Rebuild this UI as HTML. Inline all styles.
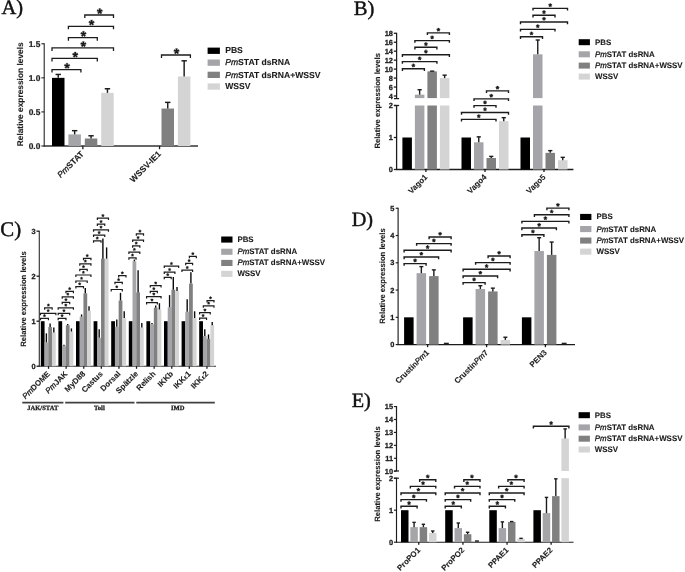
<!DOCTYPE html>
<html><head><meta charset="utf-8"><title>Figure</title>
<style>
html,body{margin:0;padding:0;background:#fff;}
body{width:685px;height:572px;overflow:hidden;font-family:"Liberation Sans",sans-serif;}
svg{display:block;will-change:transform;}
text{white-space:pre;}
</style></head><body>
<svg width="685" height="572" viewBox="0 0 685 572" shape-rendering="geometricPrecision" text-rendering="geometricPrecision">
<defs><filter id="soft" x="0" y="0" width="685" height="572" filterUnits="userSpaceOnUse" color-interpolation-filters="sRGB"><feGaussianBlur stdDeviation="0.32"/></filter></defs>
<rect x="0" y="0" width="685" height="572" fill="#ffffff"/>
<g filter="url(#soft)">
<rect x="0" y="0" width="685" height="572" fill="#ffffff"/>
<text x="1.5" y="14.3" font-family="Liberation Serif" font-size="20.5" font-weight="normal" text-anchor="start" fill="#111" stroke="#111" stroke-width="0.45">A)</text>
<line x1="44.2" y1="43.27" x2="44.2" y2="146.5" stroke="#1c1c1c" stroke-width="1.05"/>
<line x1="43.7" y1="146" x2="198" y2="146" stroke="#333" stroke-width="1.3"/>
<line x1="41.4" y1="146" x2="44.2" y2="146" stroke="#1c1c1c" stroke-width="1.05"/>
<text x="40.3" y="149" font-family="Liberation Sans" font-size="8.4" font-weight="bold" text-anchor="end" fill="#1c1c1c" stroke="#1c1c1c" stroke-width="0.22">0.0</text>
<line x1="41.4" y1="111.92" x2="44.2" y2="111.92" stroke="#1c1c1c" stroke-width="1.05"/>
<text x="40.3" y="114.92" font-family="Liberation Sans" font-size="8.4" font-weight="bold" text-anchor="end" fill="#1c1c1c" stroke="#1c1c1c" stroke-width="0.22">0.5</text>
<line x1="41.4" y1="77.85" x2="44.2" y2="77.85" stroke="#1c1c1c" stroke-width="1.05"/>
<text x="40.3" y="80.85" font-family="Liberation Sans" font-size="8.4" font-weight="bold" text-anchor="end" fill="#1c1c1c" stroke="#1c1c1c" stroke-width="0.22">1.0</text>
<line x1="41.4" y1="43.77" x2="44.2" y2="43.77" stroke="#1c1c1c" stroke-width="1.05"/>
<text x="40.3" y="46.77" font-family="Liberation Sans" font-size="8.4" font-weight="bold" text-anchor="end" fill="#1c1c1c" stroke="#1c1c1c" stroke-width="0.22">1.5</text>
<text x="0" y="0" font-family="Liberation Sans" font-size="8.36" font-weight="bold" text-anchor="middle" fill="#1c1c1c" transform="translate(23 94.3) rotate(-90)" stroke="#1c1c1c" stroke-width="0.12">Relative expression levels</text>
<rect x="52" y="77.85" width="12.5" height="68.15" fill="#000000"/>
<line x1="58.25" y1="74.44" x2="58.25" y2="77.85" stroke="#1c1c1c" stroke-width="1.45"/>
<line x1="55.55" y1="74.44" x2="60.95" y2="74.44" stroke="#1c1c1c" stroke-width="1.45"/>
<rect x="68.4" y="134.41" width="12.5" height="11.59" fill="#a4a4a9"/>
<line x1="74.65" y1="130.67" x2="74.65" y2="134.41" stroke="#1c1c1c" stroke-width="1.45"/>
<line x1="71.95" y1="130.67" x2="77.35" y2="130.67" stroke="#1c1c1c" stroke-width="1.45"/>
<rect x="84.8" y="138.5" width="12.5" height="7.5" fill="#808080"/>
<line x1="91.05" y1="135.78" x2="91.05" y2="138.5" stroke="#1c1c1c" stroke-width="1.45"/>
<line x1="88.35" y1="135.78" x2="93.75" y2="135.78" stroke="#1c1c1c" stroke-width="1.45"/>
<rect x="101.2" y="92.84" width="12.5" height="53.16" fill="#d4d4d4"/>
<line x1="107.45" y1="88.75" x2="107.45" y2="92.84" stroke="#1c1c1c" stroke-width="1.45"/>
<line x1="104.75" y1="88.75" x2="110.15" y2="88.75" stroke="#1c1c1c" stroke-width="1.45"/>
<rect x="161.5" y="108.52" width="12.5" height="37.48" fill="#808080"/>
<line x1="167.75" y1="102.38" x2="167.75" y2="108.52" stroke="#1c1c1c" stroke-width="1.45"/>
<line x1="165.05" y1="102.38" x2="170.45" y2="102.38" stroke="#1c1c1c" stroke-width="1.45"/>
<rect x="177.9" y="76.49" width="12.5" height="69.51" fill="#d4d4d4"/>
<line x1="184.15" y1="60.81" x2="184.15" y2="76.49" stroke="#1c1c1c" stroke-width="1.45"/>
<line x1="181.45" y1="60.81" x2="186.85" y2="60.81" stroke="#1c1c1c" stroke-width="1.45"/>
<line x1="82.85" y1="146" x2="82.85" y2="149.2" stroke="#1c1c1c" stroke-width="1.3"/>
<line x1="159.55" y1="146" x2="159.55" y2="149.2" stroke="#1c1c1c" stroke-width="1.3"/>
<text x="0" y="0" font-family="Liberation Sans" font-size="8.5" font-weight="bold" text-anchor="end" fill="#1c1c1c" transform="translate(84.5 154.5) rotate(-45)" stroke="#1c1c1c" stroke-width="0.12"><tspan font-style="italic" font-weight="normal" stroke="#1c1c1c" stroke-width="0.3">Pm</tspan>STAT</text>
<text x="0" y="0" font-family="Liberation Sans" font-size="8.5" font-weight="bold" text-anchor="end" fill="#1c1c1c" transform="translate(161.6 154.5) rotate(-45)" stroke="#1c1c1c" stroke-width="0.12">WSSV-IE1</text>
<path d="M84.8 18 V15 H113.5 V18" fill="none" stroke="#1c1c1c" stroke-width="1.3"/>
<path d="M100.24 11.3L100.66 8.6L98.84 8.6L99.26 11.3ZM99.9 11.77L102.6 11.33L102.04 9.6L99.6 10.83ZM99.35 11.59L100.6 14.02L102.08 12.95L100.15 11.01ZM99.35 11.01L97.42 12.95L98.9 14.02L100.15 11.59ZM99.9 10.83L97.46 9.6L96.9 11.33L99.6 11.77Z" fill="#1c1c1c" stroke="#1c1c1c" stroke-width="0.27" stroke-linejoin="round"/>
<path d="M68.4 29.3 V26.3 H113.5 V29.3" fill="none" stroke="#1c1c1c" stroke-width="1.3"/>
<path d="M92.04 22.6L92.46 19.9L90.64 19.9L91.06 22.6ZM91.7 23.07L94.4 22.63L93.84 20.9L91.4 22.13ZM91.15 22.89L92.4 25.32L93.88 24.25L91.95 22.31ZM91.15 22.31L89.22 24.25L90.7 25.32L91.95 22.89ZM91.7 22.13L89.26 20.9L88.7 22.63L91.4 23.07Z" fill="#1c1c1c" stroke="#1c1c1c" stroke-width="0.27" stroke-linejoin="round"/>
<path d="M68.4 40.7 V37.7 H97.3 V40.7" fill="none" stroke="#1c1c1c" stroke-width="1.3"/>
<path d="M83.94 34L84.36 31.3L82.54 31.3L82.96 34ZM83.6 34.47L86.3 34.03L85.74 32.3L83.3 33.53ZM83.05 34.29L84.3 36.72L85.78 35.65L83.85 33.71ZM83.05 33.71L81.12 35.65L82.6 36.72L83.85 34.29ZM83.6 33.53L81.16 32.3L80.6 34.03L83.3 34.47Z" fill="#1c1c1c" stroke="#1c1c1c" stroke-width="0.27" stroke-linejoin="round"/>
<path d="M52 50.9 V47.9 H113.5 V50.9" fill="none" stroke="#1c1c1c" stroke-width="1.3"/>
<path d="M83.84 44.2L84.26 41.5L82.44 41.5L82.86 44.2ZM83.5 44.67L86.2 44.23L85.64 42.5L83.2 43.73ZM82.95 44.49L84.2 46.92L85.68 45.85L83.75 43.91ZM82.95 43.91L81.02 45.85L82.5 46.92L83.75 44.49ZM83.5 43.73L81.06 42.5L80.5 44.23L83.2 44.67Z" fill="#1c1c1c" stroke="#1c1c1c" stroke-width="0.27" stroke-linejoin="round"/>
<path d="M52 61.4 V58.4 H97.3 V61.4" fill="none" stroke="#1c1c1c" stroke-width="1.3"/>
<path d="M75.74 54.7L76.16 52L74.34 52L74.76 54.7ZM75.4 55.17L78.1 54.73L77.54 53L75.1 54.23ZM74.85 54.99L76.1 57.42L77.58 56.35L75.65 54.41ZM74.85 54.41L72.92 56.35L74.4 57.42L75.65 54.99ZM75.4 54.23L72.96 53L72.4 54.73L75.1 55.17Z" fill="#1c1c1c" stroke="#1c1c1c" stroke-width="0.27" stroke-linejoin="round"/>
<path d="M52 72.6 V69.6 H80.9 V72.6" fill="none" stroke="#1c1c1c" stroke-width="1.3"/>
<path d="M67.54 65.9L67.96 63.2L66.14 63.2L66.56 65.9ZM67.2 66.37L69.9 65.93L69.34 64.2L66.9 65.43ZM66.65 66.19L67.9 68.62L69.38 67.55L67.45 65.61ZM66.65 65.61L64.72 67.55L66.2 68.62L67.45 66.19ZM67.2 65.43L64.76 64.2L64.2 65.93L66.9 66.37Z" fill="#1c1c1c" stroke="#1c1c1c" stroke-width="0.27" stroke-linejoin="round"/>
<path d="M161.5 58 V55 H190.4 V58" fill="none" stroke="#1c1c1c" stroke-width="1.3"/>
<path d="M177.04 51.3L177.46 48.6L175.64 48.6L176.06 51.3ZM176.7 51.77L179.4 51.33L178.84 49.6L176.4 50.83ZM176.15 51.59L177.4 54.02L178.88 52.95L176.95 51.01ZM176.15 51.01L174.22 52.95L175.7 54.02L176.95 51.59ZM176.7 50.83L174.26 49.6L173.7 51.33L176.4 51.77Z" fill="#1c1c1c" stroke="#1c1c1c" stroke-width="0.27" stroke-linejoin="round"/>
<rect x="207.6" y="47.6" width="12.3" height="6.3" fill="#000000"/>
<text x="225.2" y="53.41" font-family="Liberation Sans" font-size="8.58" font-weight="bold" text-anchor="start" fill="#1c1c1c" stroke="#1c1c1c" stroke-width="0.1">PBS</text>
<rect x="207.6" y="59.5" width="12.3" height="6.3" fill="#a4a4a9"/>
<text x="225.2" y="65.31" font-family="Liberation Sans" font-size="8.58" font-weight="bold" text-anchor="start" fill="#1c1c1c" stroke="#1c1c1c" stroke-width="0.1"><tspan font-style="italic" font-weight="normal" stroke="#1c1c1c" stroke-width="0.3">Pm</tspan>STAT dsRNA</text>
<rect x="207.6" y="71.7" width="12.3" height="6.3" fill="#808080"/>
<text x="225.2" y="77.51" font-family="Liberation Sans" font-size="8.58" font-weight="bold" text-anchor="start" fill="#1c1c1c" stroke="#1c1c1c" stroke-width="0.1"><tspan font-style="italic" font-weight="normal" stroke="#1c1c1c" stroke-width="0.3">Pm</tspan>STAT dsRNA+WSSV</text>
<rect x="207.6" y="83.4" width="12.3" height="6.3" fill="#d4d4d4"/>
<text x="225.2" y="89.21" font-family="Liberation Sans" font-size="8.58" font-weight="bold" text-anchor="start" fill="#1c1c1c" stroke="#1c1c1c" stroke-width="0.1">WSSV</text>
<text x="353.8" y="14.6" font-family="Liberation Serif" font-size="20.6" font-weight="normal" text-anchor="start" fill="#111" stroke="#111" stroke-width="0.45">B)</text>
<line x1="396.6" y1="32.78" x2="396.6" y2="98.6" stroke="#1c1c1c" stroke-width="1.25"/>
<line x1="394" y1="98.6" x2="399.1" y2="98.6" stroke="#1c1c1c" stroke-width="1.25"/>
<line x1="394" y1="105.5" x2="399.1" y2="105.5" stroke="#1c1c1c" stroke-width="1.25"/>
<line x1="396.6" y1="105" x2="396.6" y2="170" stroke="#1c1c1c" stroke-width="1.3"/>
<line x1="396.1" y1="169.5" x2="573.4" y2="169.5" stroke="#1c1c1c" stroke-width="1.3"/>
<line x1="393.8" y1="96" x2="396.6" y2="96" stroke="#1c1c1c" stroke-width="1.3"/>
<text x="392.9" y="98.7" font-family="Liberation Sans" font-size="7.4" font-weight="bold" text-anchor="end" fill="#1c1c1c" stroke="#1c1c1c" stroke-width="0.28">4</text>
<line x1="393.8" y1="87.04" x2="396.6" y2="87.04" stroke="#1c1c1c" stroke-width="1.3"/>
<text x="392.9" y="89.74" font-family="Liberation Sans" font-size="7.4" font-weight="bold" text-anchor="end" fill="#1c1c1c" stroke="#1c1c1c" stroke-width="0.28">6</text>
<line x1="393.8" y1="78.08" x2="396.6" y2="78.08" stroke="#1c1c1c" stroke-width="1.3"/>
<text x="392.9" y="80.78" font-family="Liberation Sans" font-size="7.4" font-weight="bold" text-anchor="end" fill="#1c1c1c" stroke="#1c1c1c" stroke-width="0.28">8</text>
<line x1="393.8" y1="69.12" x2="396.6" y2="69.12" stroke="#1c1c1c" stroke-width="1.3"/>
<text x="392.9" y="71.82" font-family="Liberation Sans" font-size="7.4" font-weight="bold" text-anchor="end" fill="#1c1c1c" stroke="#1c1c1c" stroke-width="0.28">10</text>
<line x1="393.8" y1="60.16" x2="396.6" y2="60.16" stroke="#1c1c1c" stroke-width="1.3"/>
<text x="392.9" y="62.86" font-family="Liberation Sans" font-size="7.4" font-weight="bold" text-anchor="end" fill="#1c1c1c" stroke="#1c1c1c" stroke-width="0.28">12</text>
<line x1="393.8" y1="51.2" x2="396.6" y2="51.2" stroke="#1c1c1c" stroke-width="1.3"/>
<text x="392.9" y="53.9" font-family="Liberation Sans" font-size="7.4" font-weight="bold" text-anchor="end" fill="#1c1c1c" stroke="#1c1c1c" stroke-width="0.28">14</text>
<line x1="393.8" y1="42.24" x2="396.6" y2="42.24" stroke="#1c1c1c" stroke-width="1.3"/>
<text x="392.9" y="44.94" font-family="Liberation Sans" font-size="7.4" font-weight="bold" text-anchor="end" fill="#1c1c1c" stroke="#1c1c1c" stroke-width="0.28">16</text>
<line x1="393.8" y1="33.28" x2="396.6" y2="33.28" stroke="#1c1c1c" stroke-width="1.3"/>
<text x="392.9" y="35.98" font-family="Liberation Sans" font-size="7.4" font-weight="bold" text-anchor="end" fill="#1c1c1c" stroke="#1c1c1c" stroke-width="0.28">18</text>
<line x1="393.8" y1="169.5" x2="396.6" y2="169.5" stroke="#1c1c1c" stroke-width="1.3"/>
<text x="392.9" y="172.2" font-family="Liberation Sans" font-size="7.4" font-weight="bold" text-anchor="end" fill="#1c1c1c" stroke="#1c1c1c" stroke-width="0.28">0</text>
<line x1="393.8" y1="137.5" x2="396.6" y2="137.5" stroke="#1c1c1c" stroke-width="1.3"/>
<text x="392.9" y="140.2" font-family="Liberation Sans" font-size="7.4" font-weight="bold" text-anchor="end" fill="#1c1c1c" stroke="#1c1c1c" stroke-width="0.28">1</text>
<line x1="393.8" y1="105.5" x2="396.6" y2="105.5" stroke="#1c1c1c" stroke-width="1.3"/>
<text x="392.9" y="108.2" font-family="Liberation Sans" font-size="7.4" font-weight="bold" text-anchor="end" fill="#1c1c1c" stroke="#1c1c1c" stroke-width="0.28">2</text>
<text x="0" y="0" font-family="Liberation Sans" font-size="7.68" font-weight="bold" text-anchor="middle" fill="#1c1c1c" transform="translate(379.8 100.8) rotate(-90)" stroke="#1c1c1c" stroke-width="0.1">Relative expression levels</text>
<rect x="402.4" y="137.5" width="9.5" height="32" fill="#000000"/>
<rect x="414.9" y="105.5" width="9.5" height="64" fill="#a4a4a9"/>
<rect x="414.9" y="94.66" width="9.5" height="3.44" fill="#a4a4a9"/>
<line x1="419.65" y1="89.73" x2="419.65" y2="94.66" stroke="#1c1c1c" stroke-width="1.4"/>
<line x1="417.55" y1="89.73" x2="421.75" y2="89.73" stroke="#1c1c1c" stroke-width="1.4"/>
<rect x="427.4" y="105.5" width="9.5" height="64" fill="#808080"/>
<rect x="427.4" y="71.36" width="9.5" height="26.74" fill="#808080"/>
<line x1="432.15" y1="71.14" x2="432.15" y2="71.36" stroke="#1c1c1c" stroke-width="1.4"/>
<line x1="430.05" y1="71.14" x2="434.25" y2="71.14" stroke="#1c1c1c" stroke-width="1.4"/>
<rect x="439.9" y="105.5" width="9.5" height="64" fill="#d4d4d4"/>
<rect x="439.9" y="78.08" width="9.5" height="20.02" fill="#d4d4d4"/>
<line x1="444.65" y1="75.17" x2="444.65" y2="78.08" stroke="#1c1c1c" stroke-width="1.4"/>
<line x1="442.55" y1="75.17" x2="446.75" y2="75.17" stroke="#1c1c1c" stroke-width="1.4"/>
<line x1="425.9" y1="169.5" x2="425.9" y2="172.1" stroke="#1c1c1c" stroke-width="1.3"/>
<rect x="461.5" y="137.5" width="9.5" height="32" fill="#000000"/>
<rect x="474" y="142.3" width="9.5" height="27.2" fill="#a4a4a9"/>
<line x1="478.75" y1="136.86" x2="478.75" y2="142.3" stroke="#1c1c1c" stroke-width="1.4"/>
<line x1="476.65" y1="136.86" x2="480.85" y2="136.86" stroke="#1c1c1c" stroke-width="1.4"/>
<rect x="486.5" y="157.98" width="9.5" height="11.52" fill="#808080"/>
<line x1="491.25" y1="156.38" x2="491.25" y2="157.98" stroke="#1c1c1c" stroke-width="1.4"/>
<line x1="489.15" y1="156.38" x2="493.35" y2="156.38" stroke="#1c1c1c" stroke-width="1.4"/>
<rect x="499" y="121.18" width="9.5" height="48.32" fill="#d4d4d4"/>
<line x1="503.75" y1="117.66" x2="503.75" y2="121.18" stroke="#1c1c1c" stroke-width="1.4"/>
<line x1="501.65" y1="117.66" x2="505.85" y2="117.66" stroke="#1c1c1c" stroke-width="1.4"/>
<line x1="485" y1="169.5" x2="485" y2="172.1" stroke="#1c1c1c" stroke-width="1.3"/>
<rect x="520.5" y="137.5" width="9.5" height="32" fill="#000000"/>
<rect x="533" y="105.5" width="9.5" height="64" fill="#a4a4a9"/>
<rect x="533" y="54.34" width="9.5" height="43.76" fill="#a4a4a9"/>
<line x1="537.75" y1="40" x2="537.75" y2="54.34" stroke="#1c1c1c" stroke-width="1.4"/>
<line x1="535.65" y1="40" x2="539.85" y2="40" stroke="#1c1c1c" stroke-width="1.4"/>
<rect x="545.5" y="152.86" width="9.5" height="16.64" fill="#808080"/>
<line x1="550.25" y1="150.62" x2="550.25" y2="152.86" stroke="#1c1c1c" stroke-width="1.4"/>
<line x1="548.15" y1="150.62" x2="552.35" y2="150.62" stroke="#1c1c1c" stroke-width="1.4"/>
<rect x="558" y="160.22" width="9.5" height="9.28" fill="#d4d4d4"/>
<line x1="562.75" y1="157.34" x2="562.75" y2="160.22" stroke="#1c1c1c" stroke-width="1.4"/>
<line x1="560.65" y1="157.34" x2="564.85" y2="157.34" stroke="#1c1c1c" stroke-width="1.4"/>
<line x1="544" y1="169.5" x2="544" y2="172.1" stroke="#1c1c1c" stroke-width="1.3"/>
<text x="0" y="0" font-family="Liberation Sans" font-size="7.9" font-weight="bold" text-anchor="end" fill="#1c1c1c" transform="translate(427.9 177.7) rotate(-45)" stroke="#1c1c1c" stroke-width="0.1">Vago1</text>
<text x="0" y="0" font-family="Liberation Sans" font-size="7.9" font-weight="bold" text-anchor="end" fill="#1c1c1c" transform="translate(487 177.7) rotate(-45)" stroke="#1c1c1c" stroke-width="0.1">Vago4</text>
<text x="0" y="0" font-family="Liberation Sans" font-size="7.9" font-weight="bold" text-anchor="end" fill="#1c1c1c" transform="translate(546 177.7) rotate(-45)" stroke="#1c1c1c" stroke-width="0.1">Vago5</text>
<path d="M427.4 35.1 V32.9 H449.4 V35.1" fill="none" stroke="#1c1c1c" stroke-width="1.4"/>
<path d="M438.74 29.7L439.04 27.95L437.76 27.95L438.06 29.7ZM438.51 30.03L440.26 29.77L439.87 28.55L438.29 29.37ZM438.12 29.9L438.91 31.49L439.94 30.74L438.68 29.5ZM438.12 29.5L436.86 30.74L437.89 31.49L438.68 29.9ZM438.51 29.37L436.93 28.55L436.54 29.77L438.29 30.03Z" fill="#1c1c1c" stroke="#1c1c1c" stroke-width="0.18" stroke-linejoin="round"/>
<path d="M414.9 42.8 V40.6 H449.4 V42.8" fill="none" stroke="#1c1c1c" stroke-width="1.4"/>
<path d="M432.49 37.4L432.79 35.65L431.51 35.65L431.81 37.4ZM432.26 37.73L434.01 37.47L433.62 36.25L432.04 37.07ZM431.87 37.6L432.66 39.19L433.69 38.44L432.43 37.2ZM431.87 37.2L430.61 38.44L431.64 39.19L432.43 37.6ZM432.26 37.07L430.68 36.25L430.29 37.47L432.04 37.73Z" fill="#1c1c1c" stroke="#1c1c1c" stroke-width="0.18" stroke-linejoin="round"/>
<path d="M414.9 49.5 V47.3 H436.9 V49.5" fill="none" stroke="#1c1c1c" stroke-width="1.4"/>
<path d="M426.24 44.1L426.54 42.35L425.26 42.35L425.56 44.1ZM426.01 44.43L427.76 44.17L427.37 42.95L425.79 43.77ZM425.62 44.3L426.41 45.89L427.44 45.14L426.18 43.9ZM425.62 43.9L424.36 45.14L425.39 45.89L426.18 44.3ZM426.01 43.77L424.43 42.95L424.04 44.17L425.79 44.43Z" fill="#1c1c1c" stroke="#1c1c1c" stroke-width="0.18" stroke-linejoin="round"/>
<path d="M402.4 57 V54.8 H449.4 V57" fill="none" stroke="#1c1c1c" stroke-width="1.4"/>
<path d="M426.24 51.6L426.54 49.85L425.26 49.85L425.56 51.6ZM426.01 51.93L427.76 51.67L427.37 50.45L425.79 51.27ZM425.62 51.8L426.41 53.39L427.44 52.64L426.18 51.4ZM425.62 51.4L424.36 52.64L425.39 53.39L426.18 51.8ZM426.01 51.27L424.43 50.45L424.04 51.67L425.79 51.93Z" fill="#1c1c1c" stroke="#1c1c1c" stroke-width="0.18" stroke-linejoin="round"/>
<path d="M402.4 63.8 V61.6 H436.9 V63.8" fill="none" stroke="#1c1c1c" stroke-width="1.4"/>
<path d="M419.99 58.4L420.29 56.65L419.01 56.65L419.31 58.4ZM419.76 58.73L421.51 58.47L421.12 57.25L419.54 58.07ZM419.37 58.6L420.16 60.19L421.19 59.44L419.93 58.2ZM419.37 58.2L418.11 59.44L419.14 60.19L419.93 58.6ZM419.76 58.07L418.18 57.25L417.79 58.47L419.54 58.73Z" fill="#1c1c1c" stroke="#1c1c1c" stroke-width="0.18" stroke-linejoin="round"/>
<path d="M402.4 70.9 V68.7 H424.4 V70.9" fill="none" stroke="#1c1c1c" stroke-width="1.4"/>
<path d="M413.74 65.5L414.04 63.75L412.76 63.75L413.06 65.5ZM413.51 65.83L415.26 65.57L414.87 64.35L413.29 65.17ZM413.12 65.7L413.91 67.29L414.94 66.54L413.68 65.3ZM413.12 65.3L411.86 66.54L412.89 67.29L413.68 65.7ZM413.51 65.17L411.93 64.35L411.54 65.57L413.29 65.83Z" fill="#1c1c1c" stroke="#1c1c1c" stroke-width="0.18" stroke-linejoin="round"/>
<path d="M486.5 93.1 V90.9 H508.5 V93.1" fill="none" stroke="#1c1c1c" stroke-width="1.4"/>
<path d="M497.84 87.7L498.14 85.95L496.86 85.95L497.16 87.7ZM497.61 88.03L499.36 87.77L498.97 86.55L497.39 87.37ZM497.22 87.9L498.01 89.49L499.04 88.74L497.78 87.5ZM497.22 87.5L495.96 88.74L496.99 89.49L497.78 87.9ZM497.61 87.37L496.03 86.55L495.64 87.77L497.39 88.03Z" fill="#1c1c1c" stroke="#1c1c1c" stroke-width="0.18" stroke-linejoin="round"/>
<path d="M474 101.1 V98.9 H508.5 V101.1" fill="none" stroke="#1c1c1c" stroke-width="1.4"/>
<path d="M491.59 95.7L491.89 93.95L490.61 93.95L490.91 95.7ZM491.36 96.03L493.11 95.77L492.72 94.55L491.14 95.37ZM490.97 95.9L491.76 97.49L492.79 96.74L491.53 95.5ZM490.97 95.5L489.71 96.74L490.74 97.49L491.53 95.9ZM491.36 95.37L489.78 94.55L489.39 95.77L491.14 96.03Z" fill="#1c1c1c" stroke="#1c1c1c" stroke-width="0.18" stroke-linejoin="round"/>
<path d="M474 107.8 V105.6 H496 V107.8" fill="none" stroke="#1c1c1c" stroke-width="1.4"/>
<path d="M485.34 102.4L485.64 100.65L484.36 100.65L484.66 102.4ZM485.11 102.73L486.86 102.47L486.47 101.25L484.89 102.07ZM484.72 102.6L485.51 104.19L486.54 103.44L485.28 102.2ZM484.72 102.2L483.46 103.44L484.49 104.19L485.28 102.6ZM485.11 102.07L483.53 101.25L483.14 102.47L484.89 102.73Z" fill="#1c1c1c" stroke="#1c1c1c" stroke-width="0.18" stroke-linejoin="round"/>
<path d="M461.5 114.7 V112.5 H508.5 V114.7" fill="none" stroke="#1c1c1c" stroke-width="1.4"/>
<path d="M485.34 109.3L485.64 107.55L484.36 107.55L484.66 109.3ZM485.11 109.63L486.86 109.37L486.47 108.15L484.89 108.97ZM484.72 109.5L485.51 111.09L486.54 110.34L485.28 109.1ZM484.72 109.1L483.46 110.34L484.49 111.09L485.28 109.5ZM485.11 108.97L483.53 108.15L483.14 109.37L484.89 109.63Z" fill="#1c1c1c" stroke="#1c1c1c" stroke-width="0.18" stroke-linejoin="round"/>
<path d="M461.5 121.6 V119.4 H496 V121.6" fill="none" stroke="#1c1c1c" stroke-width="1.4"/>
<path d="M479.09 116.2L479.39 114.45L478.11 114.45L478.41 116.2ZM478.86 116.53L480.61 116.27L480.22 115.05L478.64 115.87ZM478.47 116.4L479.26 117.99L480.29 117.24L479.03 116ZM478.47 116L477.21 117.24L478.24 117.99L479.03 116.4ZM478.86 115.87L477.28 115.05L476.89 116.27L478.64 116.53Z" fill="#1c1c1c" stroke="#1c1c1c" stroke-width="0.18" stroke-linejoin="round"/>
<path d="M533 10.6 V8.4 H567.5 V10.6" fill="none" stroke="#1c1c1c" stroke-width="1.4"/>
<path d="M550.59 5.2L550.89 3.45L549.61 3.45L549.91 5.2ZM550.36 5.53L552.11 5.27L551.72 4.05L550.14 4.87ZM549.97 5.4L550.76 6.99L551.79 6.24L550.53 5ZM549.97 5L548.71 6.24L549.74 6.99L550.53 5.4ZM550.36 4.87L548.78 4.05L548.39 5.27L550.14 5.53Z" fill="#1c1c1c" stroke="#1c1c1c" stroke-width="0.18" stroke-linejoin="round"/>
<path d="M533 17.5 V15.3 H555 V17.5" fill="none" stroke="#1c1c1c" stroke-width="1.4"/>
<path d="M544.34 12.1L544.64 10.35L543.36 10.35L543.66 12.1ZM544.11 12.43L545.86 12.17L545.47 10.95L543.89 11.77ZM543.72 12.3L544.51 13.89L545.54 13.14L544.28 11.9ZM543.72 11.9L542.46 13.14L543.49 13.89L544.28 12.3ZM544.11 11.77L542.53 10.95L542.14 12.17L543.89 12.43Z" fill="#1c1c1c" stroke="#1c1c1c" stroke-width="0.18" stroke-linejoin="round"/>
<path d="M520.5 24.2 V22 H567.5 V24.2" fill="none" stroke="#1c1c1c" stroke-width="1.4"/>
<path d="M544.34 18.8L544.64 17.05L543.36 17.05L543.66 18.8ZM544.11 19.13L545.86 18.87L545.47 17.65L543.89 18.47ZM543.72 19L544.51 20.59L545.54 19.84L544.28 18.6ZM543.72 18.6L542.46 19.84L543.49 20.59L544.28 19ZM544.11 18.47L542.53 17.65L542.14 18.87L543.89 19.13Z" fill="#1c1c1c" stroke="#1c1c1c" stroke-width="0.18" stroke-linejoin="round"/>
<path d="M520.5 31.6 V29.4 H555 V31.6" fill="none" stroke="#1c1c1c" stroke-width="1.4"/>
<path d="M538.09 26.2L538.39 24.45L537.11 24.45L537.41 26.2ZM537.86 26.53L539.61 26.27L539.22 25.05L537.64 25.87ZM537.47 26.4L538.26 27.99L539.29 27.24L538.03 26ZM537.47 26L536.21 27.24L537.24 27.99L538.03 26.4ZM537.86 25.87L536.28 25.05L535.89 26.27L537.64 26.53Z" fill="#1c1c1c" stroke="#1c1c1c" stroke-width="0.18" stroke-linejoin="round"/>
<path d="M520.5 38.9 V36.7 H542.5 V38.9" fill="none" stroke="#1c1c1c" stroke-width="1.4"/>
<path d="M531.84 33.5L532.14 31.75L530.86 31.75L531.16 33.5ZM531.61 33.83L533.36 33.57L532.97 32.35L531.39 33.17ZM531.22 33.7L532.01 35.29L533.04 34.54L531.78 33.3ZM531.22 33.3L529.96 34.54L530.99 35.29L531.78 33.7ZM531.61 33.17L530.03 32.35L529.64 33.57L531.39 33.83Z" fill="#1c1c1c" stroke="#1c1c1c" stroke-width="0.18" stroke-linejoin="round"/>
<rect x="578.7" y="39.2" width="11.2" height="6" fill="#000000"/>
<text x="595" y="44.65" font-family="Liberation Sans" font-size="7.9" font-weight="bold" text-anchor="start" fill="#1c1c1c" stroke="#1c1c1c" stroke-width="0.1">PBS</text>
<rect x="578.7" y="51.3" width="11.2" height="6" fill="#a4a4a9"/>
<text x="595" y="56.75" font-family="Liberation Sans" font-size="7.9" font-weight="bold" text-anchor="start" fill="#1c1c1c" stroke="#1c1c1c" stroke-width="0.1"><tspan font-style="italic" font-weight="normal" stroke="#1c1c1c" stroke-width="0.3">Pm</tspan>STAT dsRNA</text>
<rect x="578.7" y="62.6" width="11.2" height="6" fill="#808080"/>
<text x="595" y="68.05" font-family="Liberation Sans" font-size="7.9" font-weight="bold" text-anchor="start" fill="#1c1c1c" stroke="#1c1c1c" stroke-width="0.1"><tspan font-style="italic" font-weight="normal" stroke="#1c1c1c" stroke-width="0.3">Pm</tspan>STAT dsRNA+WSSV</text>
<rect x="578.7" y="73.6" width="11.2" height="6" fill="#d4d4d4"/>
<text x="595" y="79.05" font-family="Liberation Sans" font-size="7.9" font-weight="bold" text-anchor="start" fill="#1c1c1c" stroke="#1c1c1c" stroke-width="0.1">WSSV</text>
<text x="0.3" y="236.3" font-family="Liberation Serif" font-size="20.8" font-weight="normal" text-anchor="start" fill="#111" stroke="#111" stroke-width="0.45">C)</text>
<line x1="39.3" y1="230.7" x2="39.3" y2="366.7" stroke="#333" stroke-width="1.15"/>
<line x1="38.8" y1="366.2" x2="216" y2="366.2" stroke="#333" stroke-width="1.15"/>
<line x1="36.5" y1="366.2" x2="39.3" y2="366.2" stroke="#1c1c1c" stroke-width="1.3"/>
<text x="35.6" y="368.9" font-family="Liberation Sans" font-size="7.4" font-weight="bold" text-anchor="end" fill="#1c1c1c" stroke="#1c1c1c" stroke-width="0.28">0</text>
<line x1="36.5" y1="321.2" x2="39.3" y2="321.2" stroke="#1c1c1c" stroke-width="1.3"/>
<text x="35.6" y="323.9" font-family="Liberation Sans" font-size="7.4" font-weight="bold" text-anchor="end" fill="#1c1c1c" stroke="#1c1c1c" stroke-width="0.28">1</text>
<line x1="36.5" y1="276.2" x2="39.3" y2="276.2" stroke="#1c1c1c" stroke-width="1.3"/>
<text x="35.6" y="278.9" font-family="Liberation Sans" font-size="7.4" font-weight="bold" text-anchor="end" fill="#1c1c1c" stroke="#1c1c1c" stroke-width="0.28">2</text>
<line x1="36.5" y1="231.2" x2="39.3" y2="231.2" stroke="#1c1c1c" stroke-width="1.3"/>
<text x="35.6" y="233.9" font-family="Liberation Sans" font-size="7.4" font-weight="bold" text-anchor="end" fill="#1c1c1c" stroke="#1c1c1c" stroke-width="0.28">3</text>
<text x="0" y="0" font-family="Liberation Sans" font-size="7.68" font-weight="bold" text-anchor="middle" fill="#1c1c1c" transform="translate(26 299) rotate(-90)" stroke="#1c1c1c" stroke-width="0.1">Relative expression levels</text>
<rect x="40.8" y="321.2" width="3.77" height="45" fill="#000000"/>
<rect x="44.52" y="342.35" width="3.77" height="23.85" fill="#a4a4a9"/>
<rect x="48.24" y="327.05" width="3.77" height="39.15" fill="#808080"/>
<rect x="51.96" y="332.45" width="3.77" height="33.75" fill="#d4d4d4"/>
<line x1="46.38" y1="333.35" x2="46.38" y2="342.35" stroke="#0a0a0a" stroke-width="1.4"/>
<line x1="50.1" y1="323.45" x2="50.1" y2="327.05" stroke="#0a0a0a" stroke-width="1.4"/>
<line x1="53.82" y1="327.5" x2="53.82" y2="332.45" stroke="#0a0a0a" stroke-width="1.4"/>
<line x1="48.54" y1="366.2" x2="48.54" y2="368.8" stroke="#1c1c1c" stroke-width="1.3"/>
<text x="0" y="0" font-family="Liberation Sans" font-size="7.9" font-weight="bold" text-anchor="end" fill="#1c1c1c" transform="translate(50.54 374.4) rotate(-45)" stroke="#1c1c1c" stroke-width="0.1"><tspan font-style="italic" font-weight="normal" stroke="#1c1c1c" stroke-width="0.3">Pm</tspan>DOME</text>
<path d="M40.5 320.2 V318.3 H48.44 V320.2" fill="none" stroke="#1c1c1c" stroke-width="1.2"/>
<path d="M44.73 315.6L44.96 314.25L43.98 314.25L44.21 315.6ZM44.55 315.85L45.91 315.65L45.6 314.72L44.39 315.35ZM44.26 315.76L44.87 316.98L45.66 316.4L44.68 315.44ZM44.26 315.44L43.28 316.4L44.07 316.98L44.68 315.76ZM44.55 315.35L43.34 314.72L43.03 315.65L44.39 315.85Z" fill="#1c1c1c" stroke="#1c1c1c" stroke-width="0.14" stroke-linejoin="round"/>
<path d="M40.5 315.2 V313.3 H55.88 V315.2" fill="none" stroke="#1c1c1c" stroke-width="1.2"/>
<path d="M48.45 310.6L48.68 309.25L47.7 309.25L47.93 310.6ZM48.27 310.85L49.63 310.65L49.32 309.72L48.11 310.35ZM47.98 310.76L48.59 311.98L49.38 311.4L48.4 310.44ZM47.98 310.44L47 311.4L47.79 311.98L48.4 310.76ZM48.27 310.35L47.06 309.72L46.75 310.65L48.11 310.85Z" fill="#1c1c1c" stroke="#1c1c1c" stroke-width="0.14" stroke-linejoin="round"/>
<path d="M44.62 309.7 V307.8 H52.16 V309.7" fill="none" stroke="#1c1c1c" stroke-width="1.2"/>
<path d="M48.65 305.1L48.88 303.75L47.9 303.75L48.13 305.1ZM48.47 305.35L49.83 305.15L49.52 304.22L48.31 304.85ZM48.18 305.26L48.79 306.48L49.58 305.9L48.6 304.94ZM48.18 304.94L47.2 305.9L47.99 306.48L48.6 305.26ZM48.47 304.85L47.26 304.22L46.95 305.15L48.31 305.35Z" fill="#1c1c1c" stroke="#1c1c1c" stroke-width="0.14" stroke-linejoin="round"/>
<rect x="58.4" y="321.2" width="3.77" height="45" fill="#000000"/>
<rect x="62.12" y="345.72" width="3.77" height="20.48" fill="#a4a4a9"/>
<rect x="65.84" y="325.25" width="3.77" height="40.95" fill="#808080"/>
<rect x="69.56" y="331.55" width="3.77" height="34.65" fill="#d4d4d4"/>
<line x1="63.98" y1="344.82" x2="63.98" y2="345.72" stroke="#0a0a0a" stroke-width="1.4"/>
<line x1="67.7" y1="323.9" x2="67.7" y2="325.25" stroke="#0a0a0a" stroke-width="1.4"/>
<line x1="71.42" y1="328.4" x2="71.42" y2="331.55" stroke="#0a0a0a" stroke-width="1.4"/>
<line x1="66.14" y1="366.2" x2="66.14" y2="368.8" stroke="#1c1c1c" stroke-width="1.3"/>
<text x="0" y="0" font-family="Liberation Sans" font-size="7.9" font-weight="bold" text-anchor="end" fill="#1c1c1c" transform="translate(68.14 374.4) rotate(-45)" stroke="#1c1c1c" stroke-width="0.1"><tspan font-style="italic" font-weight="normal" stroke="#1c1c1c" stroke-width="0.3">Pm</tspan>JAK</text>
<path d="M58.18 320.2 V318.3 H65.97 V320.2" fill="none" stroke="#1c1c1c" stroke-width="1.2"/>
<path d="M62.34 315.6L62.57 314.25L61.58 314.25L61.81 315.6ZM62.16 315.85L63.51 315.65L63.21 314.72L61.99 315.35ZM61.86 315.76L62.47 316.98L63.27 316.4L62.29 315.44ZM61.86 315.44L60.88 316.4L61.68 316.98L62.29 315.76ZM62.16 315.35L60.94 314.72L60.64 315.65L61.99 315.85Z" fill="#1c1c1c" stroke="#1c1c1c" stroke-width="0.14" stroke-linejoin="round"/>
<path d="M58.18 315.2 V313.3 H69.69 V315.2" fill="none" stroke="#1c1c1c" stroke-width="1.2"/>
<path d="M64.2 310.6L64.43 309.25L63.44 309.25L63.67 310.6ZM64.02 310.85L65.37 310.65L65.07 309.72L63.85 310.35ZM63.72 310.76L64.33 311.98L65.13 311.4L64.15 310.44ZM63.72 310.44L62.74 311.4L63.54 311.98L64.15 310.76ZM64.02 310.35L62.8 309.72L62.5 310.65L63.85 310.85Z" fill="#1c1c1c" stroke="#1c1c1c" stroke-width="0.14" stroke-linejoin="round"/>
<path d="M58.18 309.7 V307.8 H73.41 V309.7" fill="none" stroke="#1c1c1c" stroke-width="1.2"/>
<path d="M66.06 305.1L66.29 303.75L65.3 303.75L65.53 305.1ZM65.88 305.35L67.23 305.15L66.93 304.22L65.71 304.85ZM65.58 305.26L66.19 306.48L66.99 305.9L66.01 304.94ZM65.58 304.94L64.6 305.9L65.4 306.48L66.01 305.26ZM65.88 304.85L64.66 304.22L64.36 305.15L65.71 305.35Z" fill="#1c1c1c" stroke="#1c1c1c" stroke-width="0.14" stroke-linejoin="round"/>
<path d="M62.2 304.3 V302.4 H69.69 V304.3" fill="none" stroke="#1c1c1c" stroke-width="1.2"/>
<path d="M66.21 299.7L66.44 298.35L65.45 298.35L65.68 299.7ZM66.03 299.95L67.38 299.75L67.08 298.82L65.86 299.45ZM65.73 299.86L66.34 301.08L67.14 300.5L66.16 299.54ZM65.73 299.54L64.75 300.5L65.55 301.08L66.16 299.86ZM66.03 299.45L64.81 298.82L64.51 299.75L65.86 299.95Z" fill="#1c1c1c" stroke="#1c1c1c" stroke-width="0.14" stroke-linejoin="round"/>
<path d="M62.2 298.7 V296.8 H73.41 V298.7" fill="none" stroke="#1c1c1c" stroke-width="1.2"/>
<path d="M68.07 294.1L68.3 292.75L67.31 292.75L67.54 294.1ZM67.89 294.35L69.24 294.15L68.94 293.22L67.72 293.85ZM67.59 294.26L68.2 295.48L69 294.9L68.02 293.94ZM67.59 293.94L66.61 294.9L67.41 295.48L68.02 294.26ZM67.89 293.85L66.67 293.22L66.37 294.15L67.72 294.35Z" fill="#1c1c1c" stroke="#1c1c1c" stroke-width="0.14" stroke-linejoin="round"/>
<path d="M65.92 293.2 V291.3 H73.41 V293.2" fill="none" stroke="#1c1c1c" stroke-width="1.2"/>
<path d="M69.93 288.6L70.16 287.25L69.17 287.25L69.4 288.6ZM69.75 288.85L71.1 288.65L70.8 287.72L69.58 288.35ZM69.45 288.76L70.06 289.98L70.86 289.4L69.88 288.44ZM69.45 288.44L68.47 289.4L69.27 289.98L69.88 288.76ZM69.75 288.35L68.53 287.72L68.23 288.65L69.58 288.85Z" fill="#1c1c1c" stroke="#1c1c1c" stroke-width="0.14" stroke-linejoin="round"/>
<rect x="76" y="321.2" width="3.77" height="45" fill="#000000"/>
<rect x="79.72" y="316.7" width="3.77" height="49.5" fill="#a4a4a9"/>
<rect x="83.44" y="293.3" width="3.77" height="72.9" fill="#808080"/>
<rect x="87.16" y="310.85" width="3.77" height="55.35" fill="#d4d4d4"/>
<line x1="81.58" y1="314.45" x2="81.58" y2="316.7" stroke="#0a0a0a" stroke-width="1.4"/>
<line x1="85.3" y1="287.9" x2="85.3" y2="293.3" stroke="#0a0a0a" stroke-width="1.4"/>
<line x1="89.02" y1="306.35" x2="89.02" y2="310.85" stroke="#0a0a0a" stroke-width="1.4"/>
<line x1="83.74" y1="366.2" x2="83.74" y2="368.8" stroke="#1c1c1c" stroke-width="1.3"/>
<text x="0" y="0" font-family="Liberation Sans" font-size="7.9" font-weight="bold" text-anchor="end" fill="#1c1c1c" transform="translate(85.74 374.4) rotate(-45)" stroke="#1c1c1c" stroke-width="0.1">MyD88</text>
<path d="M75.86 288.5 V286.6 H83.5 V288.5" fill="none" stroke="#1c1c1c" stroke-width="1.2"/>
<path d="M79.94 283.9L80.17 282.55L79.19 282.55L79.42 283.9ZM79.76 284.15L81.12 283.95L80.81 283.02L79.6 283.65ZM79.47 284.06L80.08 285.28L80.87 284.7L79.89 283.74ZM79.47 283.74L78.49 284.7L79.28 285.28L79.89 284.06ZM79.76 283.65L78.55 283.02L78.24 283.95L79.6 284.15Z" fill="#1c1c1c" stroke="#1c1c1c" stroke-width="0.14" stroke-linejoin="round"/>
<path d="M75.86 282.9 V281 H87.22 V282.9" fill="none" stroke="#1c1c1c" stroke-width="1.2"/>
<path d="M81.8 278.3L82.03 276.95L81.05 276.95L81.28 278.3ZM81.62 278.55L82.98 278.35L82.67 277.42L81.46 278.05ZM81.33 278.46L81.94 279.68L82.73 279.1L81.75 278.14ZM81.33 278.14L80.35 279.1L81.14 279.68L81.75 278.46ZM81.62 278.05L80.41 277.42L80.1 278.35L81.46 278.55Z" fill="#1c1c1c" stroke="#1c1c1c" stroke-width="0.14" stroke-linejoin="round"/>
<path d="M75.86 276.9 V275 H90.94 V276.9" fill="none" stroke="#1c1c1c" stroke-width="1.2"/>
<path d="M83.66 272.3L83.89 270.95L82.91 270.95L83.14 272.3ZM83.48 272.55L84.84 272.35L84.53 271.42L83.32 272.05ZM83.19 272.46L83.8 273.68L84.59 273.1L83.61 272.14ZM83.19 272.14L82.21 273.1L83 273.68L83.61 272.46ZM83.48 272.05L82.27 271.42L81.96 272.35L83.32 272.55Z" fill="#1c1c1c" stroke="#1c1c1c" stroke-width="0.14" stroke-linejoin="round"/>
<path d="M79.78 271.3 V269.4 H87.22 V271.3" fill="none" stroke="#1c1c1c" stroke-width="1.2"/>
<path d="M83.76 266.7L83.99 265.35L83.01 265.35L83.24 266.7ZM83.58 266.95L84.94 266.75L84.63 265.82L83.42 266.45ZM83.29 266.86L83.9 268.08L84.69 267.5L83.71 266.54ZM83.29 266.54L82.31 267.5L83.1 268.08L83.71 266.86ZM83.58 266.45L82.37 265.82L82.06 266.75L83.42 266.95Z" fill="#1c1c1c" stroke="#1c1c1c" stroke-width="0.14" stroke-linejoin="round"/>
<path d="M79.78 265.7 V263.8 H90.94 V265.7" fill="none" stroke="#1c1c1c" stroke-width="1.2"/>
<path d="M85.62 261.1L85.85 259.75L84.87 259.75L85.1 261.1ZM85.44 261.35L86.8 261.15L86.49 260.22L85.28 260.85ZM85.15 261.26L85.76 262.48L86.55 261.9L85.57 260.94ZM85.15 260.94L84.17 261.9L84.96 262.48L85.57 261.26ZM85.44 260.85L84.23 260.22L83.92 261.15L85.28 261.35Z" fill="#1c1c1c" stroke="#1c1c1c" stroke-width="0.14" stroke-linejoin="round"/>
<path d="M83.5 260.2 V258.3 H90.94 V260.2" fill="none" stroke="#1c1c1c" stroke-width="1.2"/>
<path d="M87.48 255.6L87.71 254.25L86.73 254.25L86.96 255.6ZM87.3 255.85L88.66 255.65L88.35 254.72L87.14 255.35ZM87.01 255.76L87.62 256.98L88.41 256.4L87.43 255.44ZM87.01 255.44L86.03 256.4L86.82 256.98L87.43 255.76ZM87.3 255.35L86.09 254.72L85.78 255.65L87.14 255.85Z" fill="#1c1c1c" stroke="#1c1c1c" stroke-width="0.14" stroke-linejoin="round"/>
<rect x="93.6" y="321.2" width="3.77" height="45" fill="#000000"/>
<rect x="97.32" y="337.85" width="3.77" height="28.35" fill="#a4a4a9"/>
<rect x="101.04" y="258.65" width="3.77" height="107.55" fill="#808080"/>
<rect x="104.76" y="258.65" width="3.77" height="107.55" fill="#d4d4d4"/>
<line x1="99.18" y1="329.3" x2="99.18" y2="337.85" stroke="#0a0a0a" stroke-width="1.4"/>
<line x1="102.9" y1="238.4" x2="102.9" y2="258.65" stroke="#0a0a0a" stroke-width="1.4"/>
<line x1="106.62" y1="247.4" x2="106.62" y2="258.65" stroke="#0a0a0a" stroke-width="1.4"/>
<line x1="101.34" y1="366.2" x2="101.34" y2="368.8" stroke="#1c1c1c" stroke-width="1.3"/>
<text x="0" y="0" font-family="Liberation Sans" font-size="7.9" font-weight="bold" text-anchor="end" fill="#1c1c1c" transform="translate(103.34 374.4) rotate(-45)" stroke="#1c1c1c" stroke-width="0.1">Castus</text>
<path d="M93.54 242.7 V240.8 H101.03 V242.7" fill="none" stroke="#1c1c1c" stroke-width="1.2"/>
<path d="M97.55 238.1L97.78 236.75L96.79 236.75L97.02 238.1ZM97.37 238.35L98.72 238.15L98.42 237.22L97.2 237.85ZM97.07 238.26L97.68 239.48L98.48 238.9L97.5 237.94ZM97.07 237.94L96.09 238.9L96.89 239.48L97.5 238.26ZM97.37 237.85L96.15 237.22L95.85 238.15L97.2 238.35Z" fill="#1c1c1c" stroke="#1c1c1c" stroke-width="0.14" stroke-linejoin="round"/>
<path d="M93.54 237.1 V235.2 H104.75 V237.1" fill="none" stroke="#1c1c1c" stroke-width="1.2"/>
<path d="M99.41 232.5L99.64 231.15L98.65 231.15L98.88 232.5ZM99.23 232.75L100.58 232.55L100.28 231.62L99.06 232.25ZM98.93 232.66L99.54 233.88L100.34 233.3L99.36 232.34ZM98.93 232.34L97.95 233.3L98.75 233.88L99.36 232.66ZM99.23 232.25L98.01 231.62L97.71 232.55L99.06 232.75Z" fill="#1c1c1c" stroke="#1c1c1c" stroke-width="0.14" stroke-linejoin="round"/>
<path d="M93.54 231.7 V229.8 H108.47 V231.7" fill="none" stroke="#1c1c1c" stroke-width="1.2"/>
<path d="M101.27 227.1L101.5 225.75L100.51 225.75L100.74 227.1ZM101.09 227.35L102.44 227.15L102.14 226.22L100.92 226.85ZM100.79 227.26L101.4 228.48L102.2 227.9L101.22 226.94ZM100.79 226.94L99.81 227.9L100.61 228.48L101.22 227.26ZM101.09 226.85L99.87 226.22L99.57 227.15L100.92 227.35Z" fill="#1c1c1c" stroke="#1c1c1c" stroke-width="0.14" stroke-linejoin="round"/>
<path d="M97.36 226.1 V224.2 H104.75 V226.1" fill="none" stroke="#1c1c1c" stroke-width="1.2"/>
<path d="M101.32 221.5L101.55 220.15L100.56 220.15L100.79 221.5ZM101.14 221.75L102.49 221.55L102.19 220.62L100.97 221.25ZM100.84 221.66L101.45 222.88L102.25 222.3L101.27 221.34ZM100.84 221.34L99.86 222.3L100.66 222.88L101.27 221.66ZM101.14 221.25L99.92 220.62L99.62 221.55L100.97 221.75Z" fill="#1c1c1c" stroke="#1c1c1c" stroke-width="0.14" stroke-linejoin="round"/>
<path d="M97.36 220.1 V218.2 H108.47 V220.1" fill="none" stroke="#1c1c1c" stroke-width="1.2"/>
<path d="M103.18 215.5L103.41 214.15L102.42 214.15L102.65 215.5ZM103 215.75L104.35 215.55L104.05 214.62L102.83 215.25ZM102.7 215.66L103.31 216.88L104.11 216.3L103.13 215.34ZM102.7 215.34L101.72 216.3L102.52 216.88L103.13 215.66ZM103 215.25L101.78 214.62L101.48 215.55L102.83 215.75Z" fill="#1c1c1c" stroke="#1c1c1c" stroke-width="0.14" stroke-linejoin="round"/>
<rect x="111.2" y="321.2" width="3.77" height="45" fill="#000000"/>
<rect x="114.92" y="326.82" width="3.77" height="39.38" fill="#a4a4a9"/>
<rect x="118.64" y="300.5" width="3.77" height="65.7" fill="#808080"/>
<rect x="122.36" y="318.05" width="3.77" height="48.15" fill="#d4d4d4"/>
<line x1="116.78" y1="319.4" x2="116.78" y2="326.82" stroke="#0a0a0a" stroke-width="1.4"/>
<line x1="120.5" y1="292.85" x2="120.5" y2="300.5" stroke="#0a0a0a" stroke-width="1.4"/>
<line x1="124.22" y1="311.3" x2="124.22" y2="318.05" stroke="#0a0a0a" stroke-width="1.4"/>
<line x1="118.94" y1="366.2" x2="118.94" y2="368.8" stroke="#1c1c1c" stroke-width="1.3"/>
<text x="0" y="0" font-family="Liberation Sans" font-size="7.9" font-weight="bold" text-anchor="end" fill="#1c1c1c" transform="translate(120.94 374.4) rotate(-45)" stroke="#1c1c1c" stroke-width="0.1">Dorsal</text>
<path d="M111.22 291.4 V289.5 H122.28 V291.4" fill="none" stroke="#1c1c1c" stroke-width="1.2"/>
<path d="M117.01 286.8L117.24 285.45L116.26 285.45L116.49 286.8ZM116.83 287.05L118.19 286.85L117.88 285.92L116.67 286.55ZM116.54 286.96L117.15 288.18L117.94 287.6L116.96 286.64ZM116.54 286.64L115.56 287.6L116.35 288.18L116.96 286.96ZM116.83 286.55L115.62 285.92L115.31 286.85L116.67 287.05Z" fill="#1c1c1c" stroke="#1c1c1c" stroke-width="0.14" stroke-linejoin="round"/>
<path d="M114.94 284.2 V282.3 H122.28 V284.2" fill="none" stroke="#1c1c1c" stroke-width="1.2"/>
<path d="M118.87 279.6L119.1 278.25L118.12 278.25L118.35 279.6ZM118.69 279.85L120.05 279.65L119.74 278.72L118.53 279.35ZM118.4 279.76L119.01 280.98L119.8 280.4L118.82 279.44ZM118.4 279.44L117.42 280.4L118.21 280.98L118.82 279.76ZM118.69 279.35L117.48 278.72L117.17 279.65L118.53 279.85Z" fill="#1c1c1c" stroke="#1c1c1c" stroke-width="0.14" stroke-linejoin="round"/>
<path d="M118.66 277.5 V275.6 H126 V277.5" fill="none" stroke="#1c1c1c" stroke-width="1.2"/>
<path d="M122.59 272.9L122.82 271.55L121.84 271.55L122.07 272.9ZM122.41 273.15L123.77 272.95L123.46 272.02L122.25 272.65ZM122.12 273.06L122.73 274.28L123.52 273.7L122.54 272.74ZM122.12 272.74L121.14 273.7L121.93 274.28L122.54 273.06ZM122.41 272.65L121.2 272.02L120.89 272.95L122.25 273.15Z" fill="#1c1c1c" stroke="#1c1c1c" stroke-width="0.14" stroke-linejoin="round"/>
<rect x="128.8" y="321.2" width="3.77" height="45" fill="#000000"/>
<rect x="132.52" y="261.35" width="3.77" height="104.85" fill="#a4a4a9"/>
<rect x="136.24" y="292.4" width="3.77" height="73.8" fill="#808080"/>
<rect x="139.96" y="327.5" width="3.77" height="38.7" fill="#d4d4d4"/>
<line x1="134.38" y1="259.55" x2="134.38" y2="261.35" stroke="#0a0a0a" stroke-width="1.4"/>
<line x1="138.1" y1="270.35" x2="138.1" y2="292.4" stroke="#0a0a0a" stroke-width="1.4"/>
<line x1="141.82" y1="323" x2="141.82" y2="327.5" stroke="#0a0a0a" stroke-width="1.4"/>
<line x1="136.54" y1="366.2" x2="136.54" y2="368.8" stroke="#1c1c1c" stroke-width="1.3"/>
<text x="0" y="0" font-family="Liberation Sans" font-size="7.9" font-weight="bold" text-anchor="end" fill="#1c1c1c" transform="translate(138.54 374.4) rotate(-45)" stroke="#1c1c1c" stroke-width="0.1">Sp&#228;tzle</text>
<path d="M128.9 259.7 V257.8 H136.09 V259.7" fill="none" stroke="#1c1c1c" stroke-width="1.2"/>
<path d="M132.76 255.1L132.99 253.75L132 253.75L132.23 255.1ZM132.58 255.35L133.93 255.15L133.63 254.22L132.41 254.85ZM132.28 255.26L132.89 256.48L133.69 255.9L132.71 254.94ZM132.28 254.94L131.3 255.9L132.1 256.48L132.71 255.26ZM132.58 254.85L131.36 254.22L131.06 255.15L132.41 255.35Z" fill="#1c1c1c" stroke="#1c1c1c" stroke-width="0.14" stroke-linejoin="round"/>
<path d="M128.9 254 V252.1 H139.81 V254" fill="none" stroke="#1c1c1c" stroke-width="1.2"/>
<path d="M134.62 249.4L134.85 248.05L133.86 248.05L134.09 249.4ZM134.44 249.65L135.79 249.45L135.49 248.52L134.27 249.15ZM134.14 249.56L134.75 250.78L135.55 250.2L134.57 249.24ZM134.14 249.24L133.16 250.2L133.96 250.78L134.57 249.56ZM134.44 249.15L133.22 248.52L132.92 249.45L134.27 249.65Z" fill="#1c1c1c" stroke="#1c1c1c" stroke-width="0.14" stroke-linejoin="round"/>
<path d="M132.62 247.7 V245.8 H139.81 V247.7" fill="none" stroke="#1c1c1c" stroke-width="1.2"/>
<path d="M136.48 243.1L136.71 241.75L135.72 241.75L135.95 243.1ZM136.3 243.35L137.65 243.15L137.35 242.22L136.13 242.85ZM136 243.26L136.61 244.48L137.41 243.9L136.43 242.94ZM136 242.94L135.02 243.9L135.82 244.48L136.43 243.26ZM136.3 242.85L135.08 242.22L134.78 243.15L136.13 243.35Z" fill="#1c1c1c" stroke="#1c1c1c" stroke-width="0.14" stroke-linejoin="round"/>
<path d="M132.62 242.1 V240.2 H143.53 V242.1" fill="none" stroke="#1c1c1c" stroke-width="1.2"/>
<path d="M138.34 237.5L138.57 236.15L137.58 236.15L137.81 237.5ZM138.16 237.75L139.51 237.55L139.21 236.62L137.99 237.25ZM137.86 237.66L138.47 238.88L139.27 238.3L138.29 237.34ZM137.86 237.34L136.88 238.3L137.68 238.88L138.29 237.66ZM138.16 237.25L136.94 236.62L136.64 237.55L137.99 237.75Z" fill="#1c1c1c" stroke="#1c1c1c" stroke-width="0.14" stroke-linejoin="round"/>
<path d="M136.34 235.8 V233.9 H143.53 V235.8" fill="none" stroke="#1c1c1c" stroke-width="1.2"/>
<path d="M140.2 231.2L140.43 229.85L139.44 229.85L139.67 231.2ZM140.02 231.45L141.37 231.25L141.07 230.32L139.85 230.95ZM139.72 231.36L140.33 232.58L141.13 232L140.15 231.04ZM139.72 231.04L138.74 232L139.54 232.58L140.15 231.36ZM140.02 230.95L138.8 230.32L138.5 231.25L139.85 231.45Z" fill="#1c1c1c" stroke="#1c1c1c" stroke-width="0.14" stroke-linejoin="round"/>
<rect x="146.4" y="321.2" width="3.77" height="45" fill="#000000"/>
<rect x="150.12" y="324.35" width="3.77" height="41.85" fill="#a4a4a9"/>
<rect x="153.84" y="307.7" width="3.77" height="58.5" fill="#808080"/>
<rect x="157.56" y="309.5" width="3.77" height="56.7" fill="#d4d4d4"/>
<line x1="151.98" y1="323" x2="151.98" y2="324.35" stroke="#0a0a0a" stroke-width="1.4"/>
<line x1="155.7" y1="305.45" x2="155.7" y2="307.7" stroke="#0a0a0a" stroke-width="1.4"/>
<line x1="159.42" y1="303.2" x2="159.42" y2="309.5" stroke="#0a0a0a" stroke-width="1.4"/>
<line x1="154.14" y1="366.2" x2="154.14" y2="368.8" stroke="#1c1c1c" stroke-width="1.3"/>
<text x="0" y="0" font-family="Liberation Sans" font-size="7.9" font-weight="bold" text-anchor="end" fill="#1c1c1c" transform="translate(156.14 374.4) rotate(-45)" stroke="#1c1c1c" stroke-width="0.1">Relish</text>
<path d="M146.58 304.6 V302.7 H157.34 V304.6" fill="none" stroke="#1c1c1c" stroke-width="1.2"/>
<path d="M152.22 300L152.45 298.65L151.47 298.65L151.7 300ZM152.04 300.25L153.4 300.05L153.09 299.12L151.88 299.75ZM151.75 300.16L152.36 301.38L153.15 300.8L152.17 299.84ZM151.75 299.84L150.77 300.8L151.56 301.38L152.17 300.16ZM152.04 299.75L150.83 299.12L150.52 300.05L151.88 300.25Z" fill="#1c1c1c" stroke="#1c1c1c" stroke-width="0.14" stroke-linejoin="round"/>
<path d="M146.58 298.6 V296.7 H161.06 V298.6" fill="none" stroke="#1c1c1c" stroke-width="1.2"/>
<path d="M154.08 294L154.31 292.65L153.33 292.65L153.56 294ZM153.9 294.25L155.26 294.05L154.95 293.12L153.74 293.75ZM153.61 294.16L154.22 295.38L155.01 294.8L154.03 293.84ZM153.61 293.84L152.63 294.8L153.42 295.38L154.03 294.16ZM153.9 293.75L152.69 293.12L152.38 294.05L153.74 294.25Z" fill="#1c1c1c" stroke="#1c1c1c" stroke-width="0.14" stroke-linejoin="round"/>
<path d="M150.3 293.3 V291.4 H157.34 V293.3" fill="none" stroke="#1c1c1c" stroke-width="1.2"/>
<path d="M154.08 288.7L154.31 287.35L153.33 287.35L153.56 288.7ZM153.9 288.95L155.26 288.75L154.95 287.82L153.74 288.45ZM153.61 288.86L154.22 290.08L155.01 289.5L154.03 288.54ZM153.61 288.54L152.63 289.5L153.42 290.08L154.03 288.86ZM153.9 288.45L152.69 287.82L152.38 288.75L153.74 288.95Z" fill="#1c1c1c" stroke="#1c1c1c" stroke-width="0.14" stroke-linejoin="round"/>
<path d="M150.3 287.6 V285.7 H161.06 V287.6" fill="none" stroke="#1c1c1c" stroke-width="1.2"/>
<path d="M155.94 283L156.17 281.65L155.19 281.65L155.42 283ZM155.76 283.25L157.12 283.05L156.81 282.12L155.6 282.75ZM155.47 283.16L156.08 284.38L156.87 283.8L155.89 282.84ZM155.47 282.84L154.49 283.8L155.28 284.38L155.89 283.16ZM155.76 282.75L154.55 282.12L154.24 283.05L155.6 283.25Z" fill="#1c1c1c" stroke="#1c1c1c" stroke-width="0.14" stroke-linejoin="round"/>
<rect x="164" y="321.2" width="3.77" height="45" fill="#000000"/>
<rect x="167.72" y="307.25" width="3.77" height="58.95" fill="#a4a4a9"/>
<rect x="171.44" y="289.7" width="3.77" height="76.5" fill="#808080"/>
<rect x="175.16" y="291.05" width="3.77" height="75.15" fill="#d4d4d4"/>
<line x1="169.58" y1="295.1" x2="169.58" y2="307.25" stroke="#0a0a0a" stroke-width="1.4"/>
<line x1="173.3" y1="277.1" x2="173.3" y2="289.7" stroke="#0a0a0a" stroke-width="1.4"/>
<line x1="177.02" y1="287" x2="177.02" y2="291.05" stroke="#0a0a0a" stroke-width="1.4"/>
<line x1="171.74" y1="366.2" x2="171.74" y2="368.8" stroke="#1c1c1c" stroke-width="1.3"/>
<text x="0" y="0" font-family="Liberation Sans" font-size="7.9" font-weight="bold" text-anchor="end" fill="#1c1c1c" transform="translate(173.74 374.4) rotate(-45)" stroke="#1c1c1c" stroke-width="0.1">IKKb</text>
<path d="M164.26 279.3 V277.4 H171.2 V279.3" fill="none" stroke="#1c1c1c" stroke-width="1.2"/>
<path d="M167.99 274.7L168.22 273.35L167.24 273.35L167.47 274.7ZM167.81 274.95L169.17 274.75L168.86 273.82L167.65 274.45ZM167.52 274.86L168.13 276.08L168.92 275.5L167.94 274.54ZM167.52 274.54L166.54 275.5L167.33 276.08L167.94 274.86ZM167.81 274.45L166.6 273.82L166.29 274.75L167.65 274.95Z" fill="#1c1c1c" stroke="#1c1c1c" stroke-width="0.14" stroke-linejoin="round"/>
<path d="M164.26 274.1 V272.2 H174.92 V274.1" fill="none" stroke="#1c1c1c" stroke-width="1.2"/>
<path d="M169.85 269.5L170.08 268.15L169.1 268.15L169.33 269.5ZM169.67 269.75L171.03 269.55L170.72 268.62L169.51 269.25ZM169.38 269.66L169.99 270.88L170.78 270.3L169.8 269.34ZM169.38 269.34L168.4 270.3L169.19 270.88L169.8 269.66ZM169.67 269.25L168.46 268.62L168.15 269.55L169.51 269.75Z" fill="#1c1c1c" stroke="#1c1c1c" stroke-width="0.14" stroke-linejoin="round"/>
<path d="M164.26 268.1 V266.2 H178.64 V268.1" fill="none" stroke="#1c1c1c" stroke-width="1.2"/>
<path d="M171.71 263.5L171.94 262.15L170.96 262.15L171.19 263.5ZM171.53 263.75L172.89 263.55L172.58 262.62L171.37 263.25ZM171.24 263.66L171.85 264.88L172.64 264.3L171.66 263.34ZM171.24 263.34L170.26 264.3L171.05 264.88L171.66 263.66ZM171.53 263.25L170.32 262.62L170.01 263.55L171.37 263.75Z" fill="#1c1c1c" stroke="#1c1c1c" stroke-width="0.14" stroke-linejoin="round"/>
<rect x="181.6" y="321.2" width="3.77" height="45" fill="#000000"/>
<rect x="185.32" y="311.75" width="3.77" height="54.45" fill="#a4a4a9"/>
<rect x="189.04" y="283.62" width="3.77" height="82.57" fill="#808080"/>
<rect x="192.76" y="318.05" width="3.77" height="48.15" fill="#d4d4d4"/>
<line x1="187.18" y1="299.15" x2="187.18" y2="311.75" stroke="#0a0a0a" stroke-width="1.4"/>
<line x1="190.9" y1="272.15" x2="190.9" y2="283.62" stroke="#0a0a0a" stroke-width="1.4"/>
<line x1="194.62" y1="311.3" x2="194.62" y2="318.05" stroke="#0a0a0a" stroke-width="1.4"/>
<line x1="189.34" y1="366.2" x2="189.34" y2="368.8" stroke="#1c1c1c" stroke-width="1.3"/>
<text x="0" y="0" font-family="Liberation Sans" font-size="7.9" font-weight="bold" text-anchor="end" fill="#1c1c1c" transform="translate(191.34 374.4) rotate(-45)" stroke="#1c1c1c" stroke-width="0.1">IKK<tspan font-size="6.5">&#949;</tspan>1</text>
<path d="M181.94 272.1 V270.2 H192.6 V272.1" fill="none" stroke="#1c1c1c" stroke-width="1.2"/>
<path d="M187.53 267.5L187.76 266.15L186.78 266.15L187.01 267.5ZM187.35 267.75L188.71 267.55L188.4 266.62L187.19 267.25ZM187.06 267.66L187.67 268.88L188.46 268.3L187.48 267.34ZM187.06 267.34L186.08 268.3L186.87 268.88L187.48 267.66ZM187.35 267.25L186.14 266.62L185.83 267.55L187.19 267.75Z" fill="#1c1c1c" stroke="#1c1c1c" stroke-width="0.14" stroke-linejoin="round"/>
<path d="M185.66 265.2 V263.3 H192.6 V265.2" fill="none" stroke="#1c1c1c" stroke-width="1.2"/>
<path d="M189.39 260.6L189.62 259.25L188.64 259.25L188.87 260.6ZM189.21 260.85L190.57 260.65L190.26 259.72L189.05 260.35ZM188.92 260.76L189.53 261.98L190.32 261.4L189.34 260.44ZM188.92 260.44L187.94 261.4L188.73 261.98L189.34 260.76ZM189.21 260.35L188 259.72L187.69 260.65L189.05 260.85Z" fill="#1c1c1c" stroke="#1c1c1c" stroke-width="0.14" stroke-linejoin="round"/>
<path d="M189.38 258.3 V256.4 H196.32 V258.3" fill="none" stroke="#1c1c1c" stroke-width="1.2"/>
<path d="M193.11 253.7L193.34 252.35L192.36 252.35L192.59 253.7ZM192.93 253.95L194.29 253.75L193.98 252.82L192.77 253.45ZM192.64 253.86L193.25 255.08L194.04 254.5L193.06 253.54ZM192.64 253.54L191.66 254.5L192.45 255.08L193.06 253.86ZM192.93 253.45L191.72 252.82L191.41 253.75L192.77 253.95Z" fill="#1c1c1c" stroke="#1c1c1c" stroke-width="0.14" stroke-linejoin="round"/>
<rect x="199.2" y="321.2" width="3.77" height="45" fill="#000000"/>
<rect x="202.92" y="336.05" width="3.77" height="30.15" fill="#a4a4a9"/>
<rect x="206.64" y="338.93" width="3.77" height="27.27" fill="#808080"/>
<rect x="210.36" y="325.25" width="3.77" height="40.95" fill="#d4d4d4"/>
<line x1="204.78" y1="329.3" x2="204.78" y2="336.05" stroke="#0a0a0a" stroke-width="1.4"/>
<line x1="208.5" y1="334.43" x2="208.5" y2="338.93" stroke="#0a0a0a" stroke-width="1.4"/>
<line x1="212.22" y1="322.1" x2="212.22" y2="325.25" stroke="#0a0a0a" stroke-width="1.4"/>
<line x1="206.94" y1="366.2" x2="206.94" y2="368.8" stroke="#1c1c1c" stroke-width="1.3"/>
<text x="0" y="0" font-family="Liberation Sans" font-size="7.9" font-weight="bold" text-anchor="end" fill="#1c1c1c" transform="translate(208.94 374.4) rotate(-45)" stroke="#1c1c1c" stroke-width="0.1">IKK<tspan font-size="6.5">&#949;</tspan>2</text>
<path d="M199.6 320.1 V318.2 H206.54 V320.1" fill="none" stroke="#1c1c1c" stroke-width="1.2"/>
<path d="M203.33 315.5L203.56 314.15L202.58 314.15L202.81 315.5ZM203.15 315.75L204.51 315.55L204.2 314.62L202.99 315.25ZM202.86 315.66L203.47 316.88L204.26 316.3L203.28 315.34ZM202.86 315.34L201.88 316.3L202.67 316.88L203.28 315.66ZM203.15 315.25L201.94 314.62L201.63 315.55L202.99 315.75Z" fill="#1c1c1c" stroke="#1c1c1c" stroke-width="0.14" stroke-linejoin="round"/>
<path d="M199.6 314.6 V312.7 H210.26 V314.6" fill="none" stroke="#1c1c1c" stroke-width="1.2"/>
<path d="M205.19 310L205.42 308.65L204.44 308.65L204.67 310ZM205.01 310.25L206.37 310.05L206.06 309.12L204.85 309.75ZM204.72 310.16L205.33 311.38L206.12 310.8L205.14 309.84ZM204.72 309.84L203.74 310.8L204.53 311.38L205.14 310.16ZM205.01 309.75L203.8 309.12L203.49 310.05L204.85 310.25Z" fill="#1c1c1c" stroke="#1c1c1c" stroke-width="0.14" stroke-linejoin="round"/>
<path d="M203.32 307.8 V305.9 H213.98 V307.8" fill="none" stroke="#1c1c1c" stroke-width="1.2"/>
<path d="M208.91 303.2L209.14 301.85L208.16 301.85L208.39 303.2ZM208.73 303.45L210.09 303.25L209.78 302.32L208.57 302.95ZM208.44 303.36L209.05 304.58L209.84 304L208.86 303.04ZM208.44 303.04L207.46 304L208.25 304.58L208.86 303.36ZM208.73 302.95L207.52 302.32L207.21 303.25L208.57 303.45Z" fill="#1c1c1c" stroke="#1c1c1c" stroke-width="0.14" stroke-linejoin="round"/>
<path d="M207.04 302.5 V300.6 H213.98 V302.5" fill="none" stroke="#1c1c1c" stroke-width="1.2"/>
<path d="M210.77 297.9L211 296.55L210.02 296.55L210.25 297.9ZM210.59 298.15L211.95 297.95L211.64 297.02L210.43 297.65ZM210.3 298.06L210.91 299.28L211.7 298.7L210.72 297.74ZM210.3 297.74L209.32 298.7L210.11 299.28L210.72 298.06ZM210.59 297.65L209.38 297.02L209.07 297.95L210.43 298.15Z" fill="#1c1c1c" stroke="#1c1c1c" stroke-width="0.14" stroke-linejoin="round"/>
<line x1="22.3" y1="402.6" x2="63.4" y2="402.6" stroke="#404040" stroke-width="1.75"/>
<line x1="65.2" y1="402.6" x2="134.5" y2="402.6" stroke="#404040" stroke-width="1.75"/>
<line x1="136.3" y1="402.6" x2="214.8" y2="402.6" stroke="#404040" stroke-width="1.75"/>
<text x="42.8" y="410.2" font-family="Liberation Serif" font-size="6.55" font-weight="bold" text-anchor="middle" fill="#1c1c1c" stroke="#1c1c1c" stroke-width="0.28">JAK/STAT</text>
<text x="99.4" y="410.2" font-family="Liberation Serif" font-size="6.55" font-weight="bold" text-anchor="middle" fill="#1c1c1c" stroke="#1c1c1c" stroke-width="0.28">Toll</text>
<text x="177.7" y="410.2" font-family="Liberation Serif" font-size="6.55" font-weight="bold" text-anchor="middle" fill="#1c1c1c" stroke="#1c1c1c" stroke-width="0.28">IMD</text>
<rect x="221.2" y="236.5" width="11.3" height="6.1" fill="#000000"/>
<text x="237.4" y="241.7" font-family="Liberation Sans" font-size="7.9" font-weight="bold" text-anchor="start" fill="#1c1c1c" stroke="#1c1c1c" stroke-width="0.1">PBS</text>
<rect x="221.2" y="248.7" width="11.3" height="6.1" fill="#a4a4a9"/>
<text x="237.4" y="253.9" font-family="Liberation Sans" font-size="7.9" font-weight="bold" text-anchor="start" fill="#1c1c1c" stroke="#1c1c1c" stroke-width="0.1"><tspan font-style="italic" font-weight="normal" stroke="#1c1c1c" stroke-width="0.3">Pm</tspan>STAT dsRNA</text>
<rect x="221.2" y="259.9" width="11.3" height="6.1" fill="#808080"/>
<text x="237.4" y="265.1" font-family="Liberation Sans" font-size="7.9" font-weight="bold" text-anchor="start" fill="#1c1c1c" stroke="#1c1c1c" stroke-width="0.1"><tspan font-style="italic" font-weight="normal" stroke="#1c1c1c" stroke-width="0.3">Pm</tspan>STAT dsRNA+WSSV</text>
<rect x="221.2" y="270.8" width="11.3" height="6.1" fill="#d4d4d4"/>
<text x="237.4" y="276" font-family="Liberation Sans" font-size="7.9" font-weight="bold" text-anchor="start" fill="#1c1c1c" stroke="#1c1c1c" stroke-width="0.1">WSSV</text>
<text x="351.7" y="225.5" font-family="Liberation Serif" font-size="20.3" font-weight="normal" text-anchor="start" fill="#111" stroke="#111" stroke-width="0.45">D)</text>
<line x1="398.1" y1="207.75" x2="398.1" y2="345.1" stroke="#1c1c1c" stroke-width="1.15"/>
<line x1="397.6" y1="344.6" x2="575" y2="344.6" stroke="#1c1c1c" stroke-width="1.15"/>
<line x1="395.7" y1="344.6" x2="398.1" y2="344.6" stroke="#1c1c1c" stroke-width="1.15"/>
<text x="394.4" y="347.3" font-family="Liberation Sans" font-size="7.4" font-weight="bold" text-anchor="end" fill="#1c1c1c" stroke="#1c1c1c" stroke-width="0.28">0</text>
<line x1="395.7" y1="317.33" x2="398.1" y2="317.33" stroke="#1c1c1c" stroke-width="1.15"/>
<text x="394.4" y="320.03" font-family="Liberation Sans" font-size="7.4" font-weight="bold" text-anchor="end" fill="#1c1c1c" stroke="#1c1c1c" stroke-width="0.28">1</text>
<line x1="395.7" y1="290.06" x2="398.1" y2="290.06" stroke="#1c1c1c" stroke-width="1.15"/>
<text x="394.4" y="292.76" font-family="Liberation Sans" font-size="7.4" font-weight="bold" text-anchor="end" fill="#1c1c1c" stroke="#1c1c1c" stroke-width="0.28">2</text>
<line x1="395.7" y1="262.79" x2="398.1" y2="262.79" stroke="#1c1c1c" stroke-width="1.15"/>
<text x="394.4" y="265.49" font-family="Liberation Sans" font-size="7.4" font-weight="bold" text-anchor="end" fill="#1c1c1c" stroke="#1c1c1c" stroke-width="0.28">3</text>
<line x1="395.7" y1="235.52" x2="398.1" y2="235.52" stroke="#1c1c1c" stroke-width="1.15"/>
<text x="394.4" y="238.22" font-family="Liberation Sans" font-size="7.4" font-weight="bold" text-anchor="end" fill="#1c1c1c" stroke="#1c1c1c" stroke-width="0.28">4</text>
<line x1="395.7" y1="208.25" x2="398.1" y2="208.25" stroke="#1c1c1c" stroke-width="1.15"/>
<text x="394.4" y="210.95" font-family="Liberation Sans" font-size="7.4" font-weight="bold" text-anchor="end" fill="#1c1c1c" stroke="#1c1c1c" stroke-width="0.28">5</text>
<text x="0" y="0" font-family="Liberation Sans" font-size="7.68" font-weight="bold" text-anchor="middle" fill="#1c1c1c" transform="translate(385.3 276) rotate(-90)" stroke="#1c1c1c" stroke-width="0.1">Relative expression levels</text>
<rect x="404.1" y="317.33" width="9.5" height="27.27" fill="#000000"/>
<rect x="416.6" y="273.15" width="9.5" height="71.45" fill="#a4a4a9"/>
<line x1="421.35" y1="266.61" x2="421.35" y2="273.15" stroke="#1c1c1c" stroke-width="1.4"/>
<line x1="419.35" y1="266.61" x2="423.35" y2="266.61" stroke="#1c1c1c" stroke-width="1.4"/>
<rect x="429.1" y="276.15" width="9.5" height="68.45" fill="#808080"/>
<line x1="433.85" y1="269.88" x2="433.85" y2="276.15" stroke="#1c1c1c" stroke-width="1.4"/>
<line x1="431.85" y1="269.88" x2="435.85" y2="269.88" stroke="#1c1c1c" stroke-width="1.4"/>
<rect x="443.9" y="342.7" width="4.9" height="1.5" fill="#222"/>
<line x1="427.6" y1="344.6" x2="427.6" y2="347.2" stroke="#1c1c1c" stroke-width="1.3"/>
<text x="0" y="0" font-family="Liberation Sans" font-size="7.9" font-weight="bold" text-anchor="end" fill="#1c1c1c" transform="translate(429.6 353.1) rotate(-45)" stroke="#1c1c1c" stroke-width="0.1">Crustin<tspan font-style="italic" font-weight="normal" stroke="#1c1c1c" stroke-width="0.3">Pm</tspan>1</text>
<rect x="463.1" y="317.33" width="9.5" height="27.27" fill="#000000"/>
<rect x="475.6" y="288.97" width="9.5" height="55.63" fill="#a4a4a9"/>
<line x1="480.35" y1="285.7" x2="480.35" y2="288.97" stroke="#1c1c1c" stroke-width="1.4"/>
<line x1="478.35" y1="285.7" x2="482.35" y2="285.7" stroke="#1c1c1c" stroke-width="1.4"/>
<rect x="488.1" y="291.42" width="9.5" height="53.18" fill="#808080"/>
<line x1="492.85" y1="288.15" x2="492.85" y2="291.42" stroke="#1c1c1c" stroke-width="1.4"/>
<line x1="490.85" y1="288.15" x2="494.85" y2="288.15" stroke="#1c1c1c" stroke-width="1.4"/>
<rect x="500.6" y="339.96" width="9.5" height="4.64" fill="#d4d4d4"/>
<line x1="505.35" y1="337.24" x2="505.35" y2="339.96" stroke="#1c1c1c" stroke-width="1.4"/>
<line x1="503.35" y1="337.24" x2="507.35" y2="337.24" stroke="#1c1c1c" stroke-width="1.4"/>
<line x1="486.6" y1="344.6" x2="486.6" y2="347.2" stroke="#1c1c1c" stroke-width="1.3"/>
<text x="0" y="0" font-family="Liberation Sans" font-size="7.9" font-weight="bold" text-anchor="end" fill="#1c1c1c" transform="translate(488.6 353.1) rotate(-45)" stroke="#1c1c1c" stroke-width="0.1">Crustin<tspan font-style="italic" font-weight="normal" stroke="#1c1c1c" stroke-width="0.3">Pm</tspan>7</text>
<rect x="521.9" y="317.33" width="9.5" height="27.27" fill="#000000"/>
<rect x="534.4" y="251.06" width="9.5" height="93.54" fill="#a4a4a9"/>
<line x1="539.15" y1="237.7" x2="539.15" y2="251.06" stroke="#1c1c1c" stroke-width="1.4"/>
<line x1="537.15" y1="237.7" x2="541.15" y2="237.7" stroke="#1c1c1c" stroke-width="1.4"/>
<rect x="546.9" y="254.88" width="9.5" height="89.72" fill="#808080"/>
<line x1="551.65" y1="242.06" x2="551.65" y2="254.88" stroke="#1c1c1c" stroke-width="1.4"/>
<line x1="549.65" y1="242.06" x2="553.65" y2="242.06" stroke="#1c1c1c" stroke-width="1.4"/>
<rect x="561.7" y="342.7" width="4.9" height="1.5" fill="#222"/>
<line x1="545.4" y1="344.6" x2="545.4" y2="347.2" stroke="#1c1c1c" stroke-width="1.3"/>
<text x="0" y="0" font-family="Liberation Sans" font-size="7.9" font-weight="bold" text-anchor="end" fill="#1c1c1c" transform="translate(547.4 353.1) rotate(-45)" stroke="#1c1c1c" stroke-width="0.1">PEN3</text>
<path d="M429.1 239.2 V237 H451.1 V239.2" fill="none" stroke="#1c1c1c" stroke-width="1.4"/>
<path d="M440.44 233.8L440.74 232.05L439.46 232.05L439.76 233.8ZM440.21 234.13L441.96 233.87L441.57 232.65L439.99 233.47ZM439.82 234L440.61 235.59L441.64 234.84L440.38 233.6ZM439.82 233.6L438.56 234.84L439.59 235.59L440.38 234ZM440.21 233.47L438.63 232.65L438.24 233.87L439.99 234.13Z" fill="#1c1c1c" stroke="#1c1c1c" stroke-width="0.18" stroke-linejoin="round"/>
<path d="M416.6 245.85 V243.65 H451.1 V245.85" fill="none" stroke="#1c1c1c" stroke-width="1.4"/>
<path d="M434.19 240.45L434.49 238.7L433.21 238.7L433.51 240.45ZM433.96 240.78L435.71 240.52L435.32 239.3L433.74 240.12ZM433.57 240.65L434.36 242.24L435.39 241.49L434.13 240.25ZM433.57 240.25L432.31 241.49L433.34 242.24L434.13 240.65ZM433.96 240.12L432.38 239.3L431.99 240.52L433.74 240.78Z" fill="#1c1c1c" stroke="#1c1c1c" stroke-width="0.18" stroke-linejoin="round"/>
<path d="M404.1 252.5 V250.3 H451.1 V252.5" fill="none" stroke="#1c1c1c" stroke-width="1.4"/>
<path d="M427.94 247.1L428.24 245.35L426.96 245.35L427.26 247.1ZM427.71 247.43L429.46 247.17L429.07 245.95L427.49 246.77ZM427.32 247.3L428.11 248.89L429.14 248.14L427.88 246.9ZM427.32 246.9L426.06 248.14L427.09 248.89L427.88 247.3ZM427.71 246.77L426.13 245.95L425.74 247.17L427.49 247.43Z" fill="#1c1c1c" stroke="#1c1c1c" stroke-width="0.18" stroke-linejoin="round"/>
<path d="M404.1 259.15 V256.95 H438.6 V259.15" fill="none" stroke="#1c1c1c" stroke-width="1.4"/>
<path d="M421.69 253.75L421.99 252L420.71 252L421.01 253.75ZM421.46 254.08L423.21 253.82L422.82 252.6L421.24 253.42ZM421.07 253.95L421.86 255.54L422.89 254.79L421.63 253.55ZM421.07 253.55L419.81 254.79L420.84 255.54L421.63 253.95ZM421.46 253.42L419.88 252.6L419.49 253.82L421.24 254.08Z" fill="#1c1c1c" stroke="#1c1c1c" stroke-width="0.18" stroke-linejoin="round"/>
<path d="M404.1 265.8 V263.6 H426.1 V265.8" fill="none" stroke="#1c1c1c" stroke-width="1.4"/>
<path d="M415.44 260.4L415.74 258.65L414.46 258.65L414.76 260.4ZM415.21 260.73L416.96 260.47L416.57 259.25L414.99 260.07ZM414.82 260.6L415.61 262.19L416.64 261.44L415.38 260.2ZM414.82 260.2L413.56 261.44L414.59 262.19L415.38 260.6ZM415.21 260.07L413.63 259.25L413.24 260.47L414.99 260.73Z" fill="#1c1c1c" stroke="#1c1c1c" stroke-width="0.18" stroke-linejoin="round"/>
<path d="M488.1 258.2 V256 H510.1 V258.2" fill="none" stroke="#1c1c1c" stroke-width="1.4"/>
<path d="M499.44 252.8L499.74 251.05L498.46 251.05L498.76 252.8ZM499.21 253.13L500.96 252.87L500.57 251.65L498.99 252.47ZM498.82 253L499.61 254.59L500.64 253.84L499.38 252.6ZM498.82 252.6L497.56 253.84L498.59 254.59L499.38 253ZM499.21 252.47L497.63 251.65L497.24 252.87L498.99 253.13Z" fill="#1c1c1c" stroke="#1c1c1c" stroke-width="0.18" stroke-linejoin="round"/>
<path d="M475.6 264.85 V262.65 H510.1 V264.85" fill="none" stroke="#1c1c1c" stroke-width="1.4"/>
<path d="M493.19 259.45L493.49 257.7L492.21 257.7L492.51 259.45ZM492.96 259.78L494.71 259.52L494.32 258.3L492.74 259.12ZM492.57 259.65L493.36 261.24L494.39 260.49L493.13 259.25ZM492.57 259.25L491.31 260.49L492.34 261.24L493.13 259.65ZM492.96 259.12L491.38 258.3L490.99 259.52L492.74 259.78Z" fill="#1c1c1c" stroke="#1c1c1c" stroke-width="0.18" stroke-linejoin="round"/>
<path d="M463.1 271.5 V269.3 H510.1 V271.5" fill="none" stroke="#1c1c1c" stroke-width="1.4"/>
<path d="M486.94 266.1L487.24 264.35L485.96 264.35L486.26 266.1ZM486.71 266.43L488.46 266.17L488.07 264.95L486.49 265.77ZM486.32 266.3L487.11 267.89L488.14 267.14L486.88 265.9ZM486.32 265.9L485.06 267.14L486.09 267.89L486.88 266.3ZM486.71 265.77L485.13 264.95L484.74 266.17L486.49 266.43Z" fill="#1c1c1c" stroke="#1c1c1c" stroke-width="0.18" stroke-linejoin="round"/>
<path d="M463.1 278.15 V275.95 H497.6 V278.15" fill="none" stroke="#1c1c1c" stroke-width="1.4"/>
<path d="M480.69 272.75L480.99 271L479.71 271L480.01 272.75ZM480.46 273.08L482.21 272.82L481.82 271.6L480.24 272.42ZM480.07 272.95L480.86 274.54L481.89 273.79L480.63 272.55ZM480.07 272.55L478.81 273.79L479.84 274.54L480.63 272.95ZM480.46 272.42L478.88 271.6L478.49 272.82L480.24 273.08Z" fill="#1c1c1c" stroke="#1c1c1c" stroke-width="0.18" stroke-linejoin="round"/>
<path d="M463.1 284.8 V282.6 H485.1 V284.8" fill="none" stroke="#1c1c1c" stroke-width="1.4"/>
<path d="M474.44 279.4L474.74 277.65L473.46 277.65L473.76 279.4ZM474.21 279.73L475.96 279.47L475.57 278.25L473.99 279.07ZM473.82 279.6L474.61 281.19L475.64 280.44L474.38 279.2ZM473.82 279.2L472.56 280.44L473.59 281.19L474.38 279.6ZM474.21 279.07L472.63 278.25L472.24 279.47L473.99 279.73Z" fill="#1c1c1c" stroke="#1c1c1c" stroke-width="0.18" stroke-linejoin="round"/>
<path d="M546.9 210.3 V208.1 H568.9 V210.3" fill="none" stroke="#1c1c1c" stroke-width="1.4"/>
<path d="M558.24 204.9L558.54 203.15L557.26 203.15L557.56 204.9ZM558.01 205.23L559.76 204.97L559.37 203.75L557.79 204.57ZM557.62 205.1L558.41 206.69L559.44 205.94L558.18 204.7ZM557.62 204.7L556.36 205.94L557.39 206.69L558.18 205.1ZM558.01 204.57L556.43 203.75L556.04 204.97L557.79 205.23Z" fill="#1c1c1c" stroke="#1c1c1c" stroke-width="0.18" stroke-linejoin="round"/>
<path d="M534.4 216.95 V214.75 H568.9 V216.95" fill="none" stroke="#1c1c1c" stroke-width="1.4"/>
<path d="M551.99 211.55L552.29 209.8L551.01 209.8L551.31 211.55ZM551.76 211.88L553.51 211.62L553.12 210.4L551.54 211.22ZM551.37 211.75L552.16 213.34L553.19 212.59L551.93 211.35ZM551.37 211.35L550.11 212.59L551.14 213.34L551.93 211.75ZM551.76 211.22L550.18 210.4L549.79 211.62L551.54 211.88Z" fill="#1c1c1c" stroke="#1c1c1c" stroke-width="0.18" stroke-linejoin="round"/>
<path d="M521.9 223.6 V221.4 H568.9 V223.6" fill="none" stroke="#1c1c1c" stroke-width="1.4"/>
<path d="M545.74 218.2L546.04 216.45L544.76 216.45L545.06 218.2ZM545.51 218.53L547.26 218.27L546.87 217.05L545.29 217.87ZM545.12 218.4L545.91 219.99L546.94 219.24L545.68 218ZM545.12 218L543.86 219.24L544.89 219.99L545.68 218.4ZM545.51 217.87L543.93 217.05L543.54 218.27L545.29 218.53Z" fill="#1c1c1c" stroke="#1c1c1c" stroke-width="0.18" stroke-linejoin="round"/>
<path d="M521.9 230.25 V228.05 H556.4 V230.25" fill="none" stroke="#1c1c1c" stroke-width="1.4"/>
<path d="M539.49 224.85L539.79 223.1L538.51 223.1L538.81 224.85ZM539.26 225.18L541.01 224.92L540.62 223.7L539.04 224.52ZM538.87 225.05L539.66 226.64L540.69 225.89L539.43 224.65ZM538.87 224.65L537.61 225.89L538.64 226.64L539.43 225.05ZM539.26 224.52L537.68 223.7L537.29 224.92L539.04 225.18Z" fill="#1c1c1c" stroke="#1c1c1c" stroke-width="0.18" stroke-linejoin="round"/>
<path d="M521.9 236.9 V234.7 H543.9 V236.9" fill="none" stroke="#1c1c1c" stroke-width="1.4"/>
<path d="M533.24 231.5L533.54 229.75L532.26 229.75L532.56 231.5ZM533.01 231.83L534.76 231.57L534.37 230.35L532.79 231.17ZM532.62 231.7L533.41 233.29L534.44 232.54L533.18 231.3ZM532.62 231.3L531.36 232.54L532.39 233.29L533.18 231.7ZM533.01 231.17L531.43 230.35L531.04 231.57L532.79 231.83Z" fill="#1c1c1c" stroke="#1c1c1c" stroke-width="0.18" stroke-linejoin="round"/>
<rect x="580.1" y="213.9" width="11.3" height="6.1" fill="#000000"/>
<text x="596.5" y="219.4" font-family="Liberation Sans" font-size="7.9" font-weight="bold" text-anchor="start" fill="#1c1c1c" stroke="#1c1c1c" stroke-width="0.1">PBS</text>
<rect x="580.1" y="226" width="11.3" height="6.1" fill="#a4a4a9"/>
<text x="596.5" y="231.5" font-family="Liberation Sans" font-size="7.9" font-weight="bold" text-anchor="start" fill="#1c1c1c" stroke="#1c1c1c" stroke-width="0.1"><tspan font-style="italic" font-weight="normal" stroke="#1c1c1c" stroke-width="0.3">Pm</tspan>STAT dsRNA</text>
<rect x="580.1" y="237.5" width="11.3" height="6.1" fill="#808080"/>
<text x="596.5" y="243" font-family="Liberation Sans" font-size="7.9" font-weight="bold" text-anchor="start" fill="#1c1c1c" stroke="#1c1c1c" stroke-width="0.1"><tspan font-style="italic" font-weight="normal" stroke="#1c1c1c" stroke-width="0.3">Pm</tspan>STAT dsRNA+WSSV</text>
<rect x="580.1" y="248.6" width="11.3" height="6.1" fill="#d4d4d4"/>
<text x="596.5" y="254.1" font-family="Liberation Sans" font-size="7.9" font-weight="bold" text-anchor="start" fill="#1c1c1c" stroke="#1c1c1c" stroke-width="0.1">WSSV</text>
<text x="351.7" y="407.2" font-family="Liberation Serif" font-size="20.3" font-weight="normal" text-anchor="start" fill="#111" stroke="#111" stroke-width="0.45">E)</text>
<line x1="396.5" y1="406.05" x2="396.5" y2="471" stroke="#1c1c1c" stroke-width="1.2"/>
<line x1="393.9" y1="471" x2="399" y2="471" stroke="#1c1c1c" stroke-width="1.2"/>
<line x1="393.9" y1="478.2" x2="399" y2="478.2" stroke="#1c1c1c" stroke-width="1.2"/>
<line x1="396.5" y1="477.7" x2="396.5" y2="542.7" stroke="#1c1c1c" stroke-width="1.15"/>
<line x1="396" y1="542.2" x2="573.5" y2="542.2" stroke="#1c1c1c" stroke-width="1.15"/>
<line x1="393.9" y1="471.2" x2="396.5" y2="471.2" stroke="#1c1c1c" stroke-width="1.15"/>
<text x="393" y="473.9" font-family="Liberation Sans" font-size="7.4" font-weight="bold" text-anchor="end" fill="#1c1c1c" stroke="#1c1c1c" stroke-width="0.28">10</text>
<line x1="393.9" y1="458.27" x2="396.5" y2="458.27" stroke="#1c1c1c" stroke-width="1.15"/>
<text x="393" y="460.97" font-family="Liberation Sans" font-size="7.4" font-weight="bold" text-anchor="end" fill="#1c1c1c" stroke="#1c1c1c" stroke-width="0.28">11</text>
<line x1="393.9" y1="445.34" x2="396.5" y2="445.34" stroke="#1c1c1c" stroke-width="1.15"/>
<text x="393" y="448.04" font-family="Liberation Sans" font-size="7.4" font-weight="bold" text-anchor="end" fill="#1c1c1c" stroke="#1c1c1c" stroke-width="0.28">12</text>
<line x1="393.9" y1="432.41" x2="396.5" y2="432.41" stroke="#1c1c1c" stroke-width="1.15"/>
<text x="393" y="435.11" font-family="Liberation Sans" font-size="7.4" font-weight="bold" text-anchor="end" fill="#1c1c1c" stroke="#1c1c1c" stroke-width="0.28">13</text>
<line x1="393.9" y1="419.48" x2="396.5" y2="419.48" stroke="#1c1c1c" stroke-width="1.15"/>
<text x="393" y="422.18" font-family="Liberation Sans" font-size="7.4" font-weight="bold" text-anchor="end" fill="#1c1c1c" stroke="#1c1c1c" stroke-width="0.28">14</text>
<line x1="393.9" y1="406.55" x2="396.5" y2="406.55" stroke="#1c1c1c" stroke-width="1.15"/>
<text x="393" y="409.25" font-family="Liberation Sans" font-size="7.4" font-weight="bold" text-anchor="end" fill="#1c1c1c" stroke="#1c1c1c" stroke-width="0.28">15</text>
<line x1="393.9" y1="542.2" x2="396.5" y2="542.2" stroke="#1c1c1c" stroke-width="1.15"/>
<text x="393" y="544.9" font-family="Liberation Sans" font-size="7.4" font-weight="bold" text-anchor="end" fill="#1c1c1c" stroke="#1c1c1c" stroke-width="0.28">0</text>
<line x1="393.9" y1="510.2" x2="396.5" y2="510.2" stroke="#1c1c1c" stroke-width="1.15"/>
<text x="393" y="512.9" font-family="Liberation Sans" font-size="7.4" font-weight="bold" text-anchor="end" fill="#1c1c1c" stroke="#1c1c1c" stroke-width="0.28">1</text>
<line x1="393.9" y1="478.2" x2="396.5" y2="478.2" stroke="#1c1c1c" stroke-width="1.15"/>
<text x="393" y="480.9" font-family="Liberation Sans" font-size="7.4" font-weight="bold" text-anchor="end" fill="#1c1c1c" stroke="#1c1c1c" stroke-width="0.28">2</text>
<text x="0" y="0" font-family="Liberation Sans" font-size="7.68" font-weight="bold" text-anchor="middle" fill="#1c1c1c" transform="translate(380 474) rotate(-90)" stroke="#1c1c1c" stroke-width="0.1">Relative expression levels</text>
<rect x="401" y="510.2" width="7.5" height="32" fill="#000000"/>
<rect x="410.33" y="527.16" width="7.5" height="15.04" fill="#a4a4a9"/>
<line x1="414.08" y1="522.36" x2="414.08" y2="527.16" stroke="#1c1c1c" stroke-width="1.4"/>
<line x1="412.38" y1="522.36" x2="415.78" y2="522.36" stroke="#1c1c1c" stroke-width="1.4"/>
<rect x="419.66" y="527.16" width="7.5" height="15.04" fill="#808080"/>
<line x1="423.41" y1="524.28" x2="423.41" y2="527.16" stroke="#1c1c1c" stroke-width="1.4"/>
<line x1="421.71" y1="524.28" x2="425.11" y2="524.28" stroke="#1c1c1c" stroke-width="1.4"/>
<rect x="428.99" y="532.92" width="7.5" height="9.28" fill="#d4d4d4"/>
<line x1="432.74" y1="531" x2="432.74" y2="532.92" stroke="#1c1c1c" stroke-width="1.4"/>
<line x1="431.04" y1="531" x2="434.44" y2="531" stroke="#1c1c1c" stroke-width="1.4"/>
<line x1="418.75" y1="542.2" x2="418.75" y2="544.8" stroke="#1c1c1c" stroke-width="1.3"/>
<text x="0" y="0" font-family="Liberation Sans" font-size="7.9" font-weight="bold" text-anchor="end" fill="#1c1c1c" transform="translate(420.75 550.7) rotate(-45)" stroke="#1c1c1c" stroke-width="0.1">ProPO1</text>
<rect x="445.2" y="510.2" width="7.5" height="32" fill="#000000"/>
<rect x="454.53" y="528.12" width="7.5" height="14.08" fill="#a4a4a9"/>
<line x1="458.28" y1="523" x2="458.28" y2="528.12" stroke="#1c1c1c" stroke-width="1.4"/>
<line x1="456.58" y1="523" x2="459.98" y2="523" stroke="#1c1c1c" stroke-width="1.4"/>
<rect x="463.86" y="534.2" width="7.5" height="8" fill="#808080"/>
<line x1="467.61" y1="532.28" x2="467.61" y2="534.2" stroke="#1c1c1c" stroke-width="1.4"/>
<line x1="465.91" y1="532.28" x2="469.31" y2="532.28" stroke="#1c1c1c" stroke-width="1.4"/>
<rect x="474.99" y="540.3" width="3.9" height="1.5" fill="#222"/>
<line x1="462.94" y1="542.2" x2="462.94" y2="544.8" stroke="#1c1c1c" stroke-width="1.3"/>
<text x="0" y="0" font-family="Liberation Sans" font-size="7.9" font-weight="bold" text-anchor="end" fill="#1c1c1c" transform="translate(464.94 550.7) rotate(-45)" stroke="#1c1c1c" stroke-width="0.1">ProPO2</text>
<rect x="489.3" y="510.2" width="7.5" height="32" fill="#000000"/>
<rect x="498.63" y="528.12" width="7.5" height="14.08" fill="#a4a4a9"/>
<line x1="502.38" y1="521.88" x2="502.38" y2="528.12" stroke="#1c1c1c" stroke-width="1.4"/>
<line x1="500.68" y1="521.88" x2="504.08" y2="521.88" stroke="#1c1c1c" stroke-width="1.4"/>
<rect x="507.96" y="521.88" width="7.5" height="20.32" fill="#808080"/>
<line x1="511.71" y1="521.56" x2="511.71" y2="521.88" stroke="#1c1c1c" stroke-width="1.4"/>
<line x1="510.01" y1="521.56" x2="513.41" y2="521.56" stroke="#1c1c1c" stroke-width="1.4"/>
<rect x="517.29" y="538.68" width="7.5" height="3.52" fill="#d4d4d4"/>
<line x1="521.04" y1="538.36" x2="521.04" y2="538.68" stroke="#1c1c1c" stroke-width="1.4"/>
<line x1="519.34" y1="538.36" x2="522.74" y2="538.36" stroke="#1c1c1c" stroke-width="1.4"/>
<line x1="507.05" y1="542.2" x2="507.05" y2="544.8" stroke="#1c1c1c" stroke-width="1.3"/>
<text x="0" y="0" font-family="Liberation Sans" font-size="7.9" font-weight="bold" text-anchor="end" fill="#1c1c1c" transform="translate(509.05 550.7) rotate(-45)" stroke="#1c1c1c" stroke-width="0.1">PPAE1</text>
<rect x="533.4" y="510.2" width="7.5" height="32" fill="#000000"/>
<rect x="542.73" y="513.08" width="7.5" height="29.12" fill="#a4a4a9"/>
<line x1="546.48" y1="497.4" x2="546.48" y2="513.08" stroke="#1c1c1c" stroke-width="1.4"/>
<line x1="544.78" y1="497.4" x2="548.18" y2="497.4" stroke="#1c1c1c" stroke-width="1.4"/>
<rect x="552.06" y="496.12" width="7.5" height="46.08" fill="#808080"/>
<line x1="555.81" y1="478.84" x2="555.81" y2="496.12" stroke="#1c1c1c" stroke-width="1.4"/>
<line x1="554.11" y1="478.84" x2="557.51" y2="478.84" stroke="#1c1c1c" stroke-width="1.4"/>
<rect x="561.39" y="478.2" width="7.5" height="64" fill="#d4d4d4"/>
<rect x="561.39" y="438.49" width="7.5" height="32.51" fill="#d4d4d4"/>
<line x1="565.14" y1="428.92" x2="565.14" y2="438.49" stroke="#1c1c1c" stroke-width="1.4"/>
<line x1="563.44" y1="428.92" x2="566.84" y2="428.92" stroke="#1c1c1c" stroke-width="1.4"/>
<line x1="551.14" y1="542.2" x2="551.14" y2="544.8" stroke="#1c1c1c" stroke-width="1.3"/>
<text x="0" y="0" font-family="Liberation Sans" font-size="7.9" font-weight="bold" text-anchor="end" fill="#1c1c1c" transform="translate(553.14 550.7) rotate(-45)" stroke="#1c1c1c" stroke-width="0.1">PPAE2</text>
<path d="M419.66 481.9 V479.7 H435.79 V481.9" fill="none" stroke="#1c1c1c" stroke-width="1.4"/>
<path d="M428.07 476.5L428.36 474.75L427.09 474.75L427.38 476.5ZM427.83 476.83L429.59 476.57L429.19 475.35L427.62 476.17ZM427.45 476.7L428.24 478.29L429.27 477.54L428 476.3ZM427.45 476.3L426.18 477.54L427.21 478.29L428 476.7ZM427.83 476.17L426.26 475.35L425.86 476.57L427.62 476.83Z" fill="#1c1c1c" stroke="#1c1c1c" stroke-width="0.18" stroke-linejoin="round"/>
<path d="M410.33 488.55 V486.35 H435.79 V488.55" fill="none" stroke="#1c1c1c" stroke-width="1.4"/>
<path d="M423.4 483.15L423.7 481.4L422.42 481.4L422.72 483.15ZM423.17 483.48L424.92 483.22L424.53 482L422.95 482.82ZM422.78 483.35L423.57 484.94L424.6 484.19L423.34 482.95ZM422.78 482.95L421.52 484.19L422.55 484.94L423.34 483.35ZM423.17 482.82L421.59 482L421.2 483.22L422.95 483.48Z" fill="#1c1c1c" stroke="#1c1c1c" stroke-width="0.18" stroke-linejoin="round"/>
<path d="M401 495.2 V493 H435.79 V495.2" fill="none" stroke="#1c1c1c" stroke-width="1.4"/>
<path d="M418.74 489.8L419.03 488.05L417.76 488.05L418.05 489.8ZM418.5 490.13L420.26 489.87L419.86 488.65L418.29 489.47ZM418.12 490L418.91 491.59L419.94 490.84L418.67 489.6ZM418.12 489.6L416.85 490.84L417.88 491.59L418.67 490ZM418.5 489.47L416.93 488.65L416.53 489.87L418.29 490.13Z" fill="#1c1c1c" stroke="#1c1c1c" stroke-width="0.18" stroke-linejoin="round"/>
<path d="M401 501.85 V499.65 H426.46 V501.85" fill="none" stroke="#1c1c1c" stroke-width="1.4"/>
<path d="M414.07 496.45L414.37 494.7L413.09 494.7L413.39 496.45ZM413.84 496.78L415.59 496.52L415.2 495.3L413.62 496.12ZM413.45 496.65L414.24 498.24L415.27 497.49L414.01 496.25ZM413.45 496.25L412.19 497.49L413.22 498.24L414.01 496.65ZM413.84 496.12L412.26 495.3L411.87 496.52L413.62 496.78Z" fill="#1c1c1c" stroke="#1c1c1c" stroke-width="0.18" stroke-linejoin="round"/>
<path d="M401 508.5 V506.3 H417.13 V508.5" fill="none" stroke="#1c1c1c" stroke-width="1.4"/>
<path d="M409.41 503.1L409.7 501.35L408.43 501.35L408.72 503.1ZM409.17 503.43L410.93 503.17L410.53 501.95L408.96 502.77ZM408.79 503.3L409.58 504.89L410.61 504.14L409.34 502.9ZM408.79 502.9L407.52 504.14L408.55 504.89L409.34 503.3ZM409.17 502.77L407.6 501.95L407.2 503.17L408.96 503.43Z" fill="#1c1c1c" stroke="#1c1c1c" stroke-width="0.18" stroke-linejoin="round"/>
<path d="M463.86 481.9 V479.7 H479.99 V481.9" fill="none" stroke="#1c1c1c" stroke-width="1.4"/>
<path d="M472.27 476.5L472.56 474.75L471.29 474.75L471.58 476.5ZM472.03 476.83L473.79 476.57L473.39 475.35L471.82 476.17ZM471.65 476.7L472.44 478.29L473.47 477.54L472.2 476.3ZM471.65 476.3L470.38 477.54L471.41 478.29L472.2 476.7ZM472.03 476.17L470.46 475.35L470.06 476.57L471.82 476.83Z" fill="#1c1c1c" stroke="#1c1c1c" stroke-width="0.18" stroke-linejoin="round"/>
<path d="M454.53 488.55 V486.35 H479.99 V488.55" fill="none" stroke="#1c1c1c" stroke-width="1.4"/>
<path d="M467.6 483.15L467.9 481.4L466.62 481.4L466.92 483.15ZM467.37 483.48L469.12 483.22L468.73 482L467.15 482.82ZM466.98 483.35L467.77 484.94L468.8 484.19L467.54 482.95ZM466.98 482.95L465.72 484.19L466.75 484.94L467.54 483.35ZM467.37 482.82L465.79 482L465.4 483.22L467.15 483.48Z" fill="#1c1c1c" stroke="#1c1c1c" stroke-width="0.18" stroke-linejoin="round"/>
<path d="M445.2 495.2 V493 H479.99 V495.2" fill="none" stroke="#1c1c1c" stroke-width="1.4"/>
<path d="M462.94 489.8L463.23 488.05L461.96 488.05L462.25 489.8ZM462.7 490.13L464.46 489.87L464.06 488.65L462.49 489.47ZM462.32 490L463.11 491.59L464.14 490.84L462.87 489.6ZM462.32 489.6L461.05 490.84L462.08 491.59L462.87 490ZM462.7 489.47L461.13 488.65L460.73 489.87L462.49 490.13Z" fill="#1c1c1c" stroke="#1c1c1c" stroke-width="0.18" stroke-linejoin="round"/>
<path d="M445.2 501.85 V499.65 H470.66 V501.85" fill="none" stroke="#1c1c1c" stroke-width="1.4"/>
<path d="M458.27 496.45L458.57 494.7L457.29 494.7L457.59 496.45ZM458.04 496.78L459.79 496.52L459.4 495.3L457.82 496.12ZM457.65 496.65L458.44 498.24L459.47 497.49L458.21 496.25ZM457.65 496.25L456.39 497.49L457.42 498.24L458.21 496.65ZM458.04 496.12L456.46 495.3L456.07 496.52L457.82 496.78Z" fill="#1c1c1c" stroke="#1c1c1c" stroke-width="0.18" stroke-linejoin="round"/>
<path d="M445.2 508.5 V506.3 H461.33 V508.5" fill="none" stroke="#1c1c1c" stroke-width="1.4"/>
<path d="M453.61 503.1L453.9 501.35L452.63 501.35L452.92 503.1ZM453.37 503.43L455.13 503.17L454.73 501.95L453.16 502.77ZM452.99 503.3L453.78 504.89L454.81 504.14L453.54 502.9ZM452.99 502.9L451.72 504.14L452.75 504.89L453.54 503.3ZM453.37 502.77L451.8 501.95L451.4 503.17L453.16 503.43Z" fill="#1c1c1c" stroke="#1c1c1c" stroke-width="0.18" stroke-linejoin="round"/>
<path d="M507.96 481.9 V479.7 H524.09 V481.9" fill="none" stroke="#1c1c1c" stroke-width="1.4"/>
<path d="M516.37 476.5L516.66 474.75L515.39 474.75L515.68 476.5ZM516.13 476.83L517.89 476.57L517.49 475.35L515.92 476.17ZM515.75 476.7L516.54 478.29L517.57 477.54L516.3 476.3ZM515.75 476.3L514.48 477.54L515.51 478.29L516.3 476.7ZM516.13 476.17L514.56 475.35L514.16 476.57L515.92 476.83Z" fill="#1c1c1c" stroke="#1c1c1c" stroke-width="0.18" stroke-linejoin="round"/>
<path d="M498.63 488.55 V486.35 H524.09 V488.55" fill="none" stroke="#1c1c1c" stroke-width="1.4"/>
<path d="M511.7 483.15L512 481.4L510.72 481.4L511.02 483.15ZM511.47 483.48L513.22 483.22L512.83 482L511.25 482.82ZM511.08 483.35L511.87 484.94L512.9 484.19L511.64 482.95ZM511.08 482.95L509.82 484.19L510.85 484.94L511.64 483.35ZM511.47 482.82L509.89 482L509.5 483.22L511.25 483.48Z" fill="#1c1c1c" stroke="#1c1c1c" stroke-width="0.18" stroke-linejoin="round"/>
<path d="M489.3 495.2 V493 H524.09 V495.2" fill="none" stroke="#1c1c1c" stroke-width="1.4"/>
<path d="M507.04 489.8L507.33 488.05L506.06 488.05L506.35 489.8ZM506.8 490.13L508.56 489.87L508.16 488.65L506.59 489.47ZM506.42 490L507.21 491.59L508.24 490.84L506.97 489.6ZM506.42 489.6L505.15 490.84L506.18 491.59L506.97 490ZM506.8 489.47L505.23 488.65L504.83 489.87L506.59 490.13Z" fill="#1c1c1c" stroke="#1c1c1c" stroke-width="0.18" stroke-linejoin="round"/>
<path d="M489.3 501.85 V499.65 H514.76 V501.85" fill="none" stroke="#1c1c1c" stroke-width="1.4"/>
<path d="M502.37 496.45L502.67 494.7L501.39 494.7L501.69 496.45ZM502.14 496.78L503.89 496.52L503.5 495.3L501.92 496.12ZM501.75 496.65L502.54 498.24L503.57 497.49L502.31 496.25ZM501.75 496.25L500.49 497.49L501.52 498.24L502.31 496.65ZM502.14 496.12L500.56 495.3L500.17 496.52L501.92 496.78Z" fill="#1c1c1c" stroke="#1c1c1c" stroke-width="0.18" stroke-linejoin="round"/>
<path d="M489.3 508.5 V506.3 H505.43 V508.5" fill="none" stroke="#1c1c1c" stroke-width="1.4"/>
<path d="M497.71 503.1L498 501.35L496.73 501.35L497.02 503.1ZM497.47 503.43L499.23 503.17L498.83 501.95L497.26 502.77ZM497.09 503.3L497.88 504.89L498.91 504.14L497.64 502.9ZM497.09 502.9L495.82 504.14L496.85 504.89L497.64 503.3ZM497.47 502.77L495.9 501.95L495.5 503.17L497.26 503.43Z" fill="#1c1c1c" stroke="#1c1c1c" stroke-width="0.18" stroke-linejoin="round"/>
<path d="M533.4 428.5 V426.3 H568.89 V428.5" fill="none" stroke="#1c1c1c" stroke-width="1.4"/>
<path d="M551.49 423.1L551.78 421.35L550.51 421.35L550.8 423.1ZM551.25 423.43L553.01 423.17L552.61 421.95L551.04 422.77ZM550.87 423.3L551.66 424.89L552.69 424.14L551.42 422.9ZM550.87 422.9L549.6 424.14L550.63 424.89L551.42 423.3ZM551.25 422.77L549.68 421.95L549.28 423.17L551.04 423.43Z" fill="#1c1c1c" stroke="#1c1c1c" stroke-width="0.18" stroke-linejoin="round"/>
<rect x="578.6" y="412.2" width="11.3" height="6" fill="#000000"/>
<text x="594.8" y="417.65" font-family="Liberation Sans" font-size="7.9" font-weight="bold" text-anchor="start" fill="#1c1c1c" stroke="#1c1c1c" stroke-width="0.1">PBS</text>
<rect x="578.6" y="424.4" width="11.3" height="6" fill="#a4a4a9"/>
<text x="594.8" y="429.85" font-family="Liberation Sans" font-size="7.9" font-weight="bold" text-anchor="start" fill="#1c1c1c" stroke="#1c1c1c" stroke-width="0.1"><tspan font-style="italic" font-weight="normal" stroke="#1c1c1c" stroke-width="0.3">Pm</tspan>STAT dsRNA</text>
<rect x="578.6" y="435.7" width="11.3" height="6" fill="#808080"/>
<text x="594.8" y="441.15" font-family="Liberation Sans" font-size="7.9" font-weight="bold" text-anchor="start" fill="#1c1c1c" stroke="#1c1c1c" stroke-width="0.1"><tspan font-style="italic" font-weight="normal" stroke="#1c1c1c" stroke-width="0.3">Pm</tspan>STAT dsRNA+WSSV</text>
<rect x="578.6" y="446.5" width="11.3" height="6" fill="#d4d4d4"/>
<text x="594.8" y="451.95" font-family="Liberation Sans" font-size="7.9" font-weight="bold" text-anchor="start" fill="#1c1c1c" stroke="#1c1c1c" stroke-width="0.1">WSSV</text>
</g>
</svg>
</body></html>
